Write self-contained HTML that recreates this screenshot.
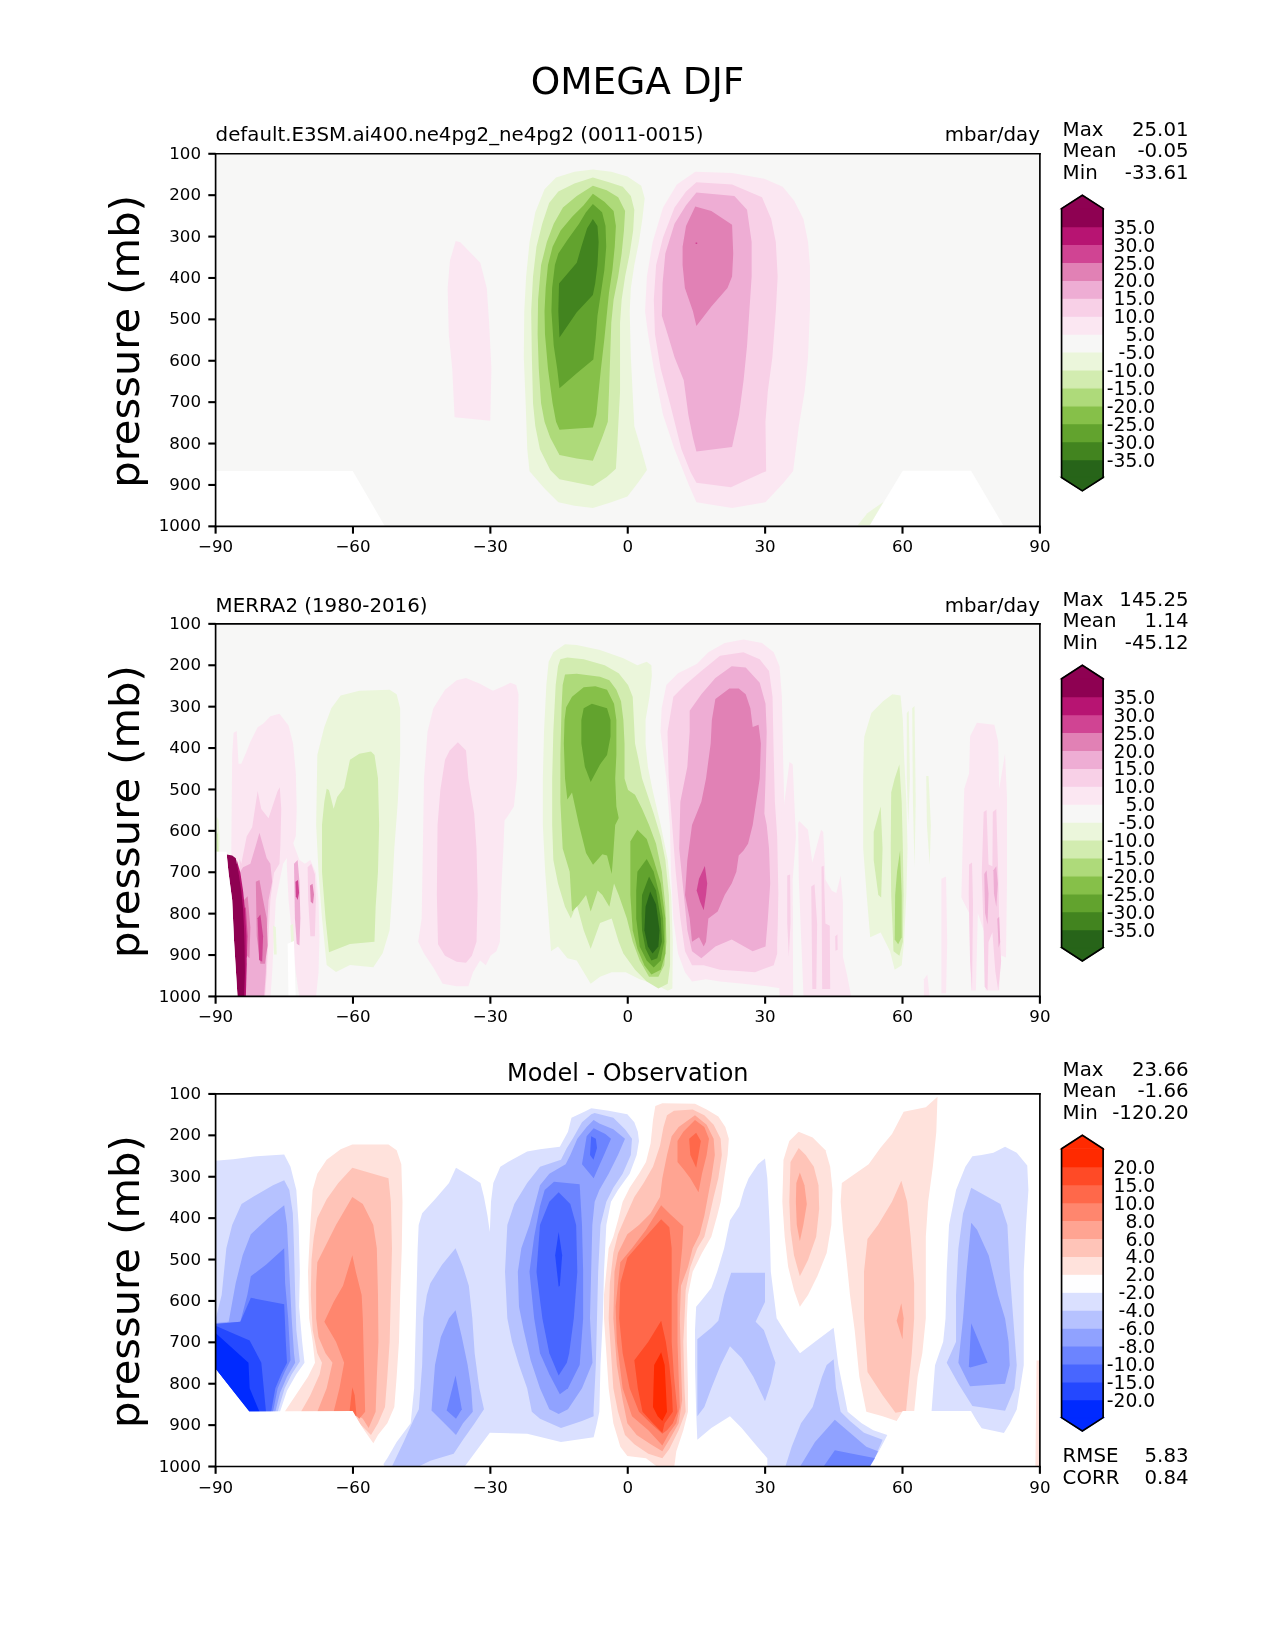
<!DOCTYPE html>
<html><head><meta charset="utf-8"><title>OMEGA DJF</title>
<style>html,body{margin:0;padding:0;background:#fff;}svg{display:block;will-change:transform;}</style>
</head><body>
<svg  width="1275" height="1650" viewBox="0 0 612 792"  version="1.1">
  <defs>
  <style type="text/css">*{stroke-linejoin: round; stroke-linecap: butt}</style>
 </defs>
 <g id="figure_1">
  <g id="patch_1">
   <path d="M 0 792 L 612 792 L 612 0 L 0 0 z
" style="fill: #ffffff"/>
  </g>
  <g id="axes_1">
   <g id="patch_2">
    <path d="M 103.4892 252.648 L 499.1472 252.648 L 499.1472 73.8144 L 103.4892 73.8144 z
" style="fill: #ffffff"/>
   </g>
   <g id="QuadContourSet_1">
   </g>
   <g id="patch_3">
    <path d="M 103.488 73.824 L 499.152 73.824 L 499.152 252.648 L 103.488 252.648 z
" clip-path="url(#pb0cb245e15)" style="fill: #f7f7f6"/>
   </g>
   <g id="patch_4">
    <path d="M 103.488 226.032 L 169.296 226.032 L 184.8 252.672 L 103.488 252.672 z
" clip-path="url(#pb0cb245e15)" style="fill: #ffffff"/>
   </g>
   <g id="patch_5">
    <path d="M 433.296463 226.01672 L 466.093891 226.01672 L 481.527974 252.100322 L 417.476527 252.100322 z
" clip-path="url(#pb0cb245e15)" style="fill: #ffffff"/>
   </g>
   <g id="patch_6">
    <path d="M 411.688746 252.100322 L 416.318971 246.31254 L 424.036013 240.910611 L 417.476527 252.100322 z
" clip-path="url(#pb0cb245e15)" style="fill: #ebf6db"/>
   </g>
   <g id="patch_7">
    <path d="M 218.738908 115.676572 L 220.95038 116.22944 L 230.570283 126.181064 L 233.666344 138.34416 L 234.77208 154.9302 L 235.877816 177.044921 L 235.324948 201.923981 L 218.18604 200.265377 L 217.080304 177.044921 L 215.4217 160.45888 L 214.868832 138.34416 L 215.974568 125.075328 z
" clip-path="url(#pb0cb245e15)" style="fill: #fbe7f2"/>
   </g>
   <g id="patch_8">
    <path d="M 284.579006 81.392265 L 293.418785 82.497238 L 301.153591 84.707182 L 307.783425 89.127072 L 309.440884 95.20442 L 308.335912 105.149171 L 306.678453 116.198895 L 304.468508 127.248619 L 302.81105 138.298343 L 302.258564 149.348066 L 302.81105 171.447514 L 303.916022 193.546961 L 304.468508 204.596685 L 307.783425 215.646409 L 310.545856 225.59116 L 306.678453 231.116022 L 301.153591 238.298343 L 293.418785 241.060773 L 284.579006 243.823204 L 275.739227 242.718232 L 268.00442 241.060773 L 261.374586 234.430939 L 254.192265 226.143646 L 253.087293 215.646409 L 252.313812 193.546961 L 251.429834 171.447514 L 251.650829 149.348066 L 252.534807 132.773481 L 254.192265 116.198895 L 256.954696 101.834254 L 261.374586 90.78453 L 266.899448 85.259669 L 275.739227 82.497238 z
" clip-path="url(#pb0cb245e15)" style="fill: #ebf6db"/>
   </g>
   <g id="patch_9">
    <path d="M 284.579006 85.259669 L 292.313812 87.469613 L 298.943646 89.679558 L 302.81105 94.099448 L 304.468508 100.729282 L 303.916022 110.674033 L 302.258564 121.723757 L 300.048619 132.773481 L 298.39116 143.823204 L 297.61768 154.872928 L 297.61768 171.447514 L 297.61768 188.022099 L 296.733702 204.596685 L 296.181215 215.646409 L 295.628729 225.038674 L 291.20884 228.906077 L 284.579006 233.325967 L 276.844199 231.668508 L 268.556906 230.01105 L 264.137017 225.59116 L 259.164641 215.646409 L 256.954696 204.596685 L 255.849724 193.546961 L 255.297238 171.447514 L 254.965746 149.348066 L 255.849724 132.773481 L 257.507182 118.40884 L 260.269613 107.359116 L 263.58453 97.414365 L 268.00442 91.889503 L 275.739227 88.022099 z
" clip-path="url(#pb0cb245e15)" style="fill: #d2ecb0"/>
   </g>
   <g id="patch_10">
    <path d="M 284.579006 89.127072 L 291.20884 91.337017 L 296.733702 94.651934 L 300.048619 101.281768 L 299.496133 110.674033 L 298.39116 121.723757 L 296.733702 132.773481 L 294.523757 143.823204 L 293.418785 154.872928 L 292.866298 171.447514 L 292.313812 188.022099 L 291.761326 202.38674 L 288.998895 210.121547 L 284.579006 221.171271 L 276.844199 220.066298 L 268.556906 218.40884 L 264.137017 210.121547 L 261.374586 202.38674 L 259.717127 193.546961 L 258.612155 176.972376 L 258.059669 160.39779 L 258.280663 143.823204 L 259.717127 127.248619 L 262.479558 116.198895 L 265.794475 107.359116 L 270.214365 99.624309 L 276.844199 94.099448 z
" clip-path="url(#pb0cb245e15)" style="fill: #aeda7a"/>
   </g>
   <g id="patch_11">
    <path d="M 284.579006 92.994475 L 290.103867 96.861878 L 294.523757 101.281768 L 295.628729 108.464088 L 295.076243 118.40884 L 293.971271 129.458564 L 292.313812 140.508287 L 291.20884 151.558011 L 290.103867 162.607735 L 288.446409 176.972376 L 287.341436 188.022099 L 286.236464 199.071823 L 284.579006 205.149171 L 276.844199 205.701657 L 268.556906 206.254144 L 266.899448 202.38674 L 265.241989 193.546961 L 263.032044 176.972376 L 261.59558 160.39779 L 261.374586 149.348066 L 261.927072 138.298343 L 263.032044 127.248619 L 265.241989 118.40884 L 269.109392 110.674033 L 274.634254 104.044199 L 280.159116 98.519337 z
" clip-path="url(#pb0cb245e15)" style="fill: #86c049"/>
   </g>
   <g id="patch_12">
    <path d="M 284.579006 97.966851 L 288.998895 101.834254 L 290.656354 108.464088 L 290.987845 118.40884 L 290.103867 129.458564 L 288.446409 140.508287 L 286.78895 151.558011 L 285.904972 162.607735 L 284.8 172.552486 L 276.844199 179.18232 L 268.556906 186.364641 L 267.451934 176.972376 L 265.794475 165.922652 L 264.689503 149.348066 L 265.020994 138.298343 L 266.346961 127.248619 L 268.00442 121.723757 L 272.424309 115.093923 L 277.949171 107.359116 L 281.264088 101.834254 z
" clip-path="url(#pb0cb245e15)" style="fill: #62a32e"/>
   </g>
   <g id="patch_13">
    <path d="M 284.579006 105.149171 L 286.78895 108.464088 L 287.341436 116.198895 L 286.78895 127.248619 L 285.683978 136.088398 L 284.579006 141.61326 L 276.844199 149.900552 L 268.556906 162.055249 L 268.00442 149.348066 L 268.335912 136.088398 L 276.844199 126.143646 L 279.054144 118.40884 L 281.816575 109.569061 z
" clip-path="url(#pb0cb245e15)" style="fill: #42841f"/>
   </g>
   <g id="patch_14">
    <path d="M 333.719337 82.497238 L 351.398895 83.049724 L 366.868508 85.812155 L 375.708287 89.679558 L 381.233149 96.309392 L 385.653039 105.149171 L 387.862983 116.198895 L 388.746961 127.248619 L 388.746961 149.348066 L 387.862983 171.447514 L 386.205525 188.022099 L 383.443094 204.596685 L 380.680663 226.143646 L 375.708287 232.220994 L 367.420994 241.060773 L 351.398895 243.823204 L 334.271823 241.060773 L 330.40442 232.220994 L 323.774586 215.646409 L 318.249724 199.071823 L 313.829834 176.972376 L 311.067403 160.39779 L 309.630939 149.348066 L 310.514917 132.773481 L 313.277348 116.198895 L 318.249724 99.624309 L 324.879558 88.574586 z
" clip-path="url(#pb0cb245e15)" style="fill: #fbe7f2"/>
   </g>
   <g id="patch_15">
    <path d="M 334.271823 87.469613 L 351.398895 88.574586 L 365.763536 94.651934 L 370.183425 105.149171 L 372.39337 116.198895 L 373.277348 132.773481 L 372.39337 149.348066 L 370.735912 171.447514 L 368.525967 188.022099 L 367.420994 202.38674 L 367.752486 226.143646 L 359.133702 230.01105 L 350.846409 233.878453 L 334.271823 231.668508 L 331.509392 226.696133 L 327.089503 215.646409 L 321.564641 193.546961 L 317.144751 176.972376 L 314.38232 160.39779 L 313.829834 143.823204 L 314.934807 127.248619 L 318.249724 113.98895 L 323.774586 99.624309 L 329.299448 91.889503 z
" clip-path="url(#pb0cb245e15)" style="fill: #f8d0e7"/>
   </g>
   <g id="patch_16">
    <path d="M 334.271823 92.441989 L 352.503867 94.099448 L 358.581215 100.729282 L 360.79116 116.198895 L 360.79116 132.773481 L 359.686188 149.348066 L 358.581215 165.922652 L 356.923757 182.497238 L 354.713812 199.071823 L 351.398895 214.541436 L 334.271823 216.751381 L 332.614365 210.121547 L 330.40442 199.071823 L 328.194475 182.497238 L 323.774586 171.447514 L 320.459669 160.39779 L 317.697238 151.558011 L 318.028729 136.088398 L 319.354696 121.723757 L 323.774586 107.359116 L 329.299448 98.519337 z
" clip-path="url(#pb0cb245e15)" style="fill: #eeadd4"/>
   </g>
   <g id="patch_17">
    <path d="M 333.719337 99.071823 L 341.454144 101.281768 L 351.398895 107.911602 L 351.951381 121.723757 L 351.398895 132.773481 L 349.18895 138.298343 L 341.454144 147.138122 L 334.271823 156.530387 L 332.614365 149.348066 L 328.746961 138.298343 L 327.641989 127.248619 L 327.641989 118.40884 L 329.299448 108.464088 z
" clip-path="url(#pb0cb245e15)" style="fill: #e181b5"/>
   </g>
   <g id="patch_18">
    <path d="M 333.888 116.352 L 334.656 116.352 L 334.656 117.12 L 333.888 117.12 z
" clip-path="url(#pb0cb245e15)" style="fill: #d04493"/>
   </g>
   <g id="matplotlib.axis_1">
    <g id="xtick_1">
     <g id="line2d_1">
            <g>
       <path d="M 0 0 L 0 3.5 " transform="translate(103.4892 252.648)" style="stroke: #000000"/>
      </g>
     </g>
     <g id="text_1">
      <text style="font-size: 8px; font-family: 'DejaVu Sans', 'Liberation Sans', sans-serif; text-anchor: middle" x="103.4892" y="265.1507" transform="rotate(-0 103.4892 265.1507)">−90</text>
     </g>
    </g>
    <g id="xtick_2">
     <g id="line2d_2">
      <g>
       <path d="M 0 0 L 0 3.5 " transform="translate(169.4322 252.648)" style="stroke: #000000"/>
      </g>
     </g>
     <g id="text_2">
      <text style="font-size: 8px; font-family: 'DejaVu Sans', 'Liberation Sans', sans-serif; text-anchor: middle" x="169.4322" y="265.1507" transform="rotate(-0 169.4322 265.1507)">−60</text>
     </g>
    </g>
    <g id="xtick_3">
     <g id="line2d_3">
      <g>
       <path d="M 0 0 L 0 3.5 " transform="translate(235.3752 252.648)" style="stroke: #000000"/>
      </g>
     </g>
     <g id="text_3">
      <text style="font-size: 8px; font-family: 'DejaVu Sans', 'Liberation Sans', sans-serif; text-anchor: middle" x="235.3752" y="265.1507" transform="rotate(-0 235.3752 265.1507)">−30</text>
     </g>
    </g>
    <g id="xtick_4">
     <g id="line2d_4">
      <g>
       <path d="M 0 0 L 0 3.5 " transform="translate(301.3182 252.648)" style="stroke: #000000"/>
      </g>
     </g>
     <g id="text_4">
      <text style="font-size: 8px; font-family: 'DejaVu Sans', 'Liberation Sans', sans-serif; text-anchor: middle" x="301.3182" y="265.1507" transform="rotate(-0 301.3182 265.1507)">0</text>
     </g>
    </g>
    <g id="xtick_5">
     <g id="line2d_5">
      <g>
       <path d="M 0 0 L 0 3.5 " transform="translate(367.2612 252.648)" style="stroke: #000000"/>
      </g>
     </g>
     <g id="text_5">
      <text style="font-size: 8px; font-family: 'DejaVu Sans', 'Liberation Sans', sans-serif; text-anchor: middle" x="367.2612" y="265.1507" transform="rotate(-0 367.2612 265.1507)">30</text>
     </g>
    </g>
    <g id="xtick_6">
     <g id="line2d_6">
      <g>
       <path d="M 0 0 L 0 3.5 " transform="translate(433.2042 252.648)" style="stroke: #000000"/>
      </g>
     </g>
     <g id="text_6">
      <text style="font-size: 8px; font-family: 'DejaVu Sans', 'Liberation Sans', sans-serif; text-anchor: middle" x="433.2042" y="265.1507" transform="rotate(-0 433.2042 265.1507)">60</text>
     </g>
    </g>
    <g id="xtick_7">
     <g id="line2d_7">
      <g>
       <path d="M 0 0 L 0 3.5 " transform="translate(499.1472 252.648)" style="stroke: #000000"/>
      </g>
     </g>
     <g id="text_7">
      <text style="font-size: 8px; font-family: 'DejaVu Sans', 'Liberation Sans', sans-serif; text-anchor: middle" x="499.1472" y="265.1507" transform="rotate(-0 499.1472 265.1507)">90</text>
     </g>
    </g>
   </g>
   <g id="matplotlib.axis_2">
    <g id="ytick_1">
     <g id="line2d_8">
            <g>
       <path d="M 0 0 L -3.5 0 " transform="translate(103.4892 73.8144)" style="stroke: #000000"/>
      </g>
     </g>
     <g id="text_8">
      <text style="font-size: 8px; font-family: 'DejaVu Sans', 'Liberation Sans', sans-serif; text-anchor: end" x="96.4892" y="76.2778" transform="rotate(-0 96.4892 76.2778)">100</text>
     </g>
    </g>
    <g id="ytick_2">
     <g id="line2d_9">
      <g>
       <path d="M 0 0 L -3.5 0 " transform="translate(103.4892 93.6848)" style="stroke: #000000"/>
      </g>
     </g>
     <g id="text_9">
      <text style="font-size: 8px; font-family: 'DejaVu Sans', 'Liberation Sans', sans-serif; text-anchor: end" x="96.4892" y="96.1482" transform="rotate(-0 96.4892 96.1482)">200</text>
     </g>
    </g>
    <g id="ytick_3">
     <g id="line2d_10">
      <g>
       <path d="M 0 0 L -3.5 0 " transform="translate(103.4892 113.5552)" style="stroke: #000000"/>
      </g>
     </g>
     <g id="text_10">
      <text style="font-size: 8px; font-family: 'DejaVu Sans', 'Liberation Sans', sans-serif; text-anchor: end" x="96.4892" y="116.0186" transform="rotate(-0 96.4892 116.0186)">300</text>
     </g>
    </g>
    <g id="ytick_4">
     <g id="line2d_11">
      <g>
       <path d="M 0 0 L -3.5 0 " transform="translate(103.4892 133.4256)" style="stroke: #000000"/>
      </g>
     </g>
     <g id="text_11">
      <text style="font-size: 8px; font-family: 'DejaVu Sans', 'Liberation Sans', sans-serif; text-anchor: end" x="96.4892" y="135.8890" transform="rotate(-0 96.4892 135.8890)">400</text>
     </g>
    </g>
    <g id="ytick_5">
     <g id="line2d_12">
      <g>
       <path d="M 0 0 L -3.5 0 " transform="translate(103.4892 153.296)" style="stroke: #000000"/>
      </g>
     </g>
     <g id="text_12">
      <text style="font-size: 8px; font-family: 'DejaVu Sans', 'Liberation Sans', sans-serif; text-anchor: end" x="96.4892" y="155.7594" transform="rotate(-0 96.4892 155.7594)">500</text>
     </g>
    </g>
    <g id="ytick_6">
     <g id="line2d_13">
      <g>
       <path d="M 0 0 L -3.5 0 " transform="translate(103.4892 173.1664)" style="stroke: #000000"/>
      </g>
     </g>
     <g id="text_13">
      <text style="font-size: 8px; font-family: 'DejaVu Sans', 'Liberation Sans', sans-serif; text-anchor: end" x="96.4892" y="175.6298" transform="rotate(-0 96.4892 175.6298)">600</text>
     </g>
    </g>
    <g id="ytick_7">
     <g id="line2d_14">
      <g>
       <path d="M 0 0 L -3.5 0 " transform="translate(103.4892 193.0368)" style="stroke: #000000"/>
      </g>
     </g>
     <g id="text_14">
      <text style="font-size: 8px; font-family: 'DejaVu Sans', 'Liberation Sans', sans-serif; text-anchor: end" x="96.4892" y="195.5002" transform="rotate(-0 96.4892 195.5002)">700</text>
     </g>
    </g>
    <g id="ytick_8">
     <g id="line2d_15">
      <g>
       <path d="M 0 0 L -3.5 0 " transform="translate(103.4892 212.9072)" style="stroke: #000000"/>
      </g>
     </g>
     <g id="text_15">
      <text style="font-size: 8px; font-family: 'DejaVu Sans', 'Liberation Sans', sans-serif; text-anchor: end" x="96.4892" y="215.3706" transform="rotate(-0 96.4892 215.3706)">800</text>
     </g>
    </g>
    <g id="ytick_9">
     <g id="line2d_16">
      <g>
       <path d="M 0 0 L -3.5 0 " transform="translate(103.4892 232.7776)" style="stroke: #000000"/>
      </g>
     </g>
     <g id="text_16">
      <text style="font-size: 8px; font-family: 'DejaVu Sans', 'Liberation Sans', sans-serif; text-anchor: end" x="96.4892" y="235.2410" transform="rotate(-0 96.4892 235.2410)">900</text>
     </g>
    </g>
    <g id="ytick_10">
     <g id="line2d_17">
      <g>
       <path d="M 0 0 L -3.5 0 " transform="translate(103.4892 252.648)" style="stroke: #000000"/>
      </g>
     </g>
     <g id="text_17">
      <text style="font-size: 8px; font-family: 'DejaVu Sans', 'Liberation Sans', sans-serif; text-anchor: end" x="96.4892" y="255.1114" transform="rotate(-0 96.4892 255.1114)">1000</text>
     </g>
    </g>
    <g id="text_18">
     <g transform="translate(-1.0560 0.6720)"><text style="font-size: 20px; font-family: 'DejaVu Sans', 'Liberation Sans', sans-serif; text-anchor: middle" x="67.969825" y="163.2312" transform="rotate(-90 67.969825 163.2312)">pressure (mb)</text></g>
    </g>
   </g>
   <g id="patch_19">
    <path d="M 103.4892 252.648 L 103.4892 73.8144 " style="fill: none; stroke: #000000; stroke-width: 0.8; stroke-linejoin: miter; stroke-linecap: square"/>
   </g>
   <g id="patch_20">
    <path d="M 499.1472 252.648 L 499.1472 73.8144 " style="fill: none; stroke: #000000; stroke-width: 0.8; stroke-linejoin: miter; stroke-linecap: square"/>
   </g>
   <g id="patch_21">
    <path d="M 103.4892 252.648 L 499.1472 252.648 " style="fill: none; stroke: #000000; stroke-width: 0.8; stroke-linejoin: miter; stroke-linecap: square"/>
   </g>
   <g id="patch_22">
    <path d="M 103.4892 73.8144 L 499.1472 73.8144 " style="fill: none; stroke: #000000; stroke-width: 0.8; stroke-linejoin: miter; stroke-linecap: square"/>
   </g>
   <g id="text_19">
    <text style="font-size: 9.5px; font-family: 'DejaVu Sans', 'Liberation Sans', sans-serif; text-anchor: start" x="103.4892" y="67.8144" transform="rotate(-0 103.4892 67.8144)">default.E3SM.ai400.ne4pg2_ne4pg2 (0011-0015)</text>
   </g>
   <g id="text_20">
    <text style="font-size: 9.5px; font-family: 'DejaVu Sans', 'Liberation Sans', sans-serif; text-anchor: end" x="499.1472" y="67.8144" transform="rotate(-0 499.1472 67.8144)">mbar/day</text>
   </g>
  </g>
  <g id="axes_2">
   <g id="patch_23">
    <path d="M 509.5512 229.1688 L 529.5024 229.1688 L 529.5024 100.1448 L 509.5512 100.1448 z
" style="fill: #ffffff"/>
   </g>
   <g id="patch_24">
    <path d="M 509.5512 229.1688 L 519.5268 235.62 L 529.5024 229.1688 z" style="fill: #276419; stroke: #276419; stroke-width: 0.6; stroke-linejoin: miter"/>
   </g>
   <g id="patch_25">
    <path d="M 509.5512 100.1448 L 519.5268 93.6936 L 529.5024 100.1448 z" style="fill: #8e0152; stroke: #8e0152; stroke-width: 0.6; stroke-linejoin: miter"/>
   </g>
   <g id="QuadMesh_1">
    <path d="M 509.5512 229.1688 L 529.5024 229.1688 L 529.5024 220.5672 L 509.5512 220.5672 L 509.5512 229.1688 " clip-path="url(#p1fe804e399)" style="fill: #276419; stroke: #276419; stroke-width: 0.6"/>
    <path d="M 509.5512 220.5672 L 529.5024 220.5672 L 529.5024 211.9656 L 509.5512 211.9656 L 509.5512 220.5672 " clip-path="url(#p1fe804e399)" style="fill: #42841f; stroke: #42841f; stroke-width: 0.6"/>
    <path d="M 509.5512 211.9656 L 529.5024 211.9656 L 529.5024 203.364 L 509.5512 203.364 L 509.5512 211.9656 " clip-path="url(#p1fe804e399)" style="fill: #62a32e; stroke: #62a32e; stroke-width: 0.6"/>
    <path d="M 509.5512 203.364 L 529.5024 203.364 L 529.5024 194.7624 L 509.5512 194.7624 L 509.5512 203.364 " clip-path="url(#p1fe804e399)" style="fill: #86c049; stroke: #86c049; stroke-width: 0.6"/>
    <path d="M 509.5512 194.7624 L 529.5024 194.7624 L 529.5024 186.1608 L 509.5512 186.1608 L 509.5512 194.7624 " clip-path="url(#p1fe804e399)" style="fill: #aeda7a; stroke: #aeda7a; stroke-width: 0.6"/>
    <path d="M 509.5512 186.1608 L 529.5024 186.1608 L 529.5024 177.5592 L 509.5512 177.5592 L 509.5512 186.1608 " clip-path="url(#p1fe804e399)" style="fill: #d2ecb0; stroke: #d2ecb0; stroke-width: 0.6"/>
    <path d="M 509.5512 177.5592 L 529.5024 177.5592 L 529.5024 168.9576 L 509.5512 168.9576 L 509.5512 177.5592 " clip-path="url(#p1fe804e399)" style="fill: #ebf6db; stroke: #ebf6db; stroke-width: 0.6"/>
    <path d="M 509.5512 168.9576 L 529.5024 168.9576 L 529.5024 160.356 L 509.5512 160.356 L 509.5512 168.9576 " clip-path="url(#p1fe804e399)" style="fill: #f7f7f6; stroke: #f7f7f6; stroke-width: 0.6"/>
    <path d="M 509.5512 160.356 L 529.5024 160.356 L 529.5024 151.7544 L 509.5512 151.7544 L 509.5512 160.356 " clip-path="url(#p1fe804e399)" style="fill: #fbe7f2; stroke: #fbe7f2; stroke-width: 0.6"/>
    <path d="M 509.5512 151.7544 L 529.5024 151.7544 L 529.5024 143.1528 L 509.5512 143.1528 L 509.5512 151.7544 " clip-path="url(#p1fe804e399)" style="fill: #f8d0e7; stroke: #f8d0e7; stroke-width: 0.6"/>
    <path d="M 509.5512 143.1528 L 529.5024 143.1528 L 529.5024 134.5512 L 509.5512 134.5512 L 509.5512 143.1528 " clip-path="url(#p1fe804e399)" style="fill: #eeadd4; stroke: #eeadd4; stroke-width: 0.6"/>
    <path d="M 509.5512 134.5512 L 529.5024 134.5512 L 529.5024 125.9496 L 509.5512 125.9496 L 509.5512 134.5512 " clip-path="url(#p1fe804e399)" style="fill: #e181b5; stroke: #e181b5; stroke-width: 0.6"/>
    <path d="M 509.5512 125.9496 L 529.5024 125.9496 L 529.5024 117.348 L 509.5512 117.348 L 509.5512 125.9496 " clip-path="url(#p1fe804e399)" style="fill: #d04493; stroke: #d04493; stroke-width: 0.6"/>
    <path d="M 509.5512 117.348 L 529.5024 117.348 L 529.5024 108.7464 L 509.5512 108.7464 L 509.5512 117.348 " clip-path="url(#p1fe804e399)" style="fill: #b71472; stroke: #b71472; stroke-width: 0.6"/>
    <path d="M 509.5512 108.7464 L 529.5024 108.7464 L 529.5024 100.1448 L 509.5512 100.1448 L 509.5512 108.7464 " clip-path="url(#p1fe804e399)" style="fill: #8e0152; stroke: #8e0152; stroke-width: 0.6"/>
   </g>
   <g id="matplotlib.axis_3"/>
   <g id="matplotlib.axis_4">
    <g id="ytick_11">
     <g id="line2d_18"/>
     <g id="text_21">
      <text style="font-size: 9px; font-family: 'DejaVu Sans', 'Liberation Sans', sans-serif; text-anchor: end" x="554.5024" y="223.986497" transform="rotate(-0 554.5024 223.986497)">-35.0</text>
     </g>
    </g>
    <g id="ytick_12">
     <g id="line2d_19"/>
     <g id="text_22">
      <text style="font-size: 9px; font-family: 'DejaVu Sans', 'Liberation Sans', sans-serif; text-anchor: end" x="554.5024" y="215.384897" transform="rotate(-0 554.5024 215.384897)">-30.0</text>
     </g>
    </g>
    <g id="ytick_13">
     <g id="line2d_20"/>
     <g id="text_23">
      <text style="font-size: 9px; font-family: 'DejaVu Sans', 'Liberation Sans', sans-serif; text-anchor: end" x="554.5024" y="206.783297" transform="rotate(-0 554.5024 206.783297)">-25.0</text>
     </g>
    </g>
    <g id="ytick_14">
     <g id="line2d_21"/>
     <g id="text_24">
      <text style="font-size: 9px; font-family: 'DejaVu Sans', 'Liberation Sans', sans-serif; text-anchor: end" x="554.5024" y="198.181697" transform="rotate(-0 554.5024 198.181697)">-20.0</text>
     </g>
    </g>
    <g id="ytick_15">
     <g id="line2d_22"/>
     <g id="text_25">
      <text style="font-size: 9px; font-family: 'DejaVu Sans', 'Liberation Sans', sans-serif; text-anchor: end" x="554.5024" y="189.580097" transform="rotate(-0 554.5024 189.580097)">-15.0</text>
     </g>
    </g>
    <g id="ytick_16">
     <g id="line2d_23"/>
     <g id="text_26">
      <text style="font-size: 9px; font-family: 'DejaVu Sans', 'Liberation Sans', sans-serif; text-anchor: end" x="554.5024" y="180.978497" transform="rotate(-0 554.5024 180.978497)">-10.0</text>
     </g>
    </g>
    <g id="ytick_17">
     <g id="line2d_24"/>
     <g id="text_27">
      <text style="font-size: 9px; font-family: 'DejaVu Sans', 'Liberation Sans', sans-serif; text-anchor: end" x="554.5024" y="172.376897" transform="rotate(-0 554.5024 172.376897)"> -5.0</text>
     </g>
    </g>
    <g id="ytick_18">
     <g id="line2d_25"/>
     <g id="text_28">
      <text style="font-size: 9px; font-family: 'DejaVu Sans', 'Liberation Sans', sans-serif; text-anchor: end" x="554.5024" y="163.775297" transform="rotate(-0 554.5024 163.775297)">  5.0</text>
     </g>
    </g>
    <g id="ytick_19">
     <g id="line2d_26"/>
     <g id="text_29">
      <text style="font-size: 9px; font-family: 'DejaVu Sans', 'Liberation Sans', sans-serif; text-anchor: end" x="554.5024" y="155.173697" transform="rotate(-0 554.5024 155.173697)"> 10.0</text>
     </g>
    </g>
    <g id="ytick_20">
     <g id="line2d_27"/>
     <g id="text_30">
      <text style="font-size: 9px; font-family: 'DejaVu Sans', 'Liberation Sans', sans-serif; text-anchor: end" x="554.5024" y="146.572097" transform="rotate(-0 554.5024 146.572097)"> 15.0</text>
     </g>
    </g>
    <g id="ytick_21">
     <g id="line2d_28"/>
     <g id="text_31">
      <text style="font-size: 9px; font-family: 'DejaVu Sans', 'Liberation Sans', sans-serif; text-anchor: end" x="554.5024" y="137.970497" transform="rotate(-0 554.5024 137.970497)"> 20.0</text>
     </g>
    </g>
    <g id="ytick_22">
     <g id="line2d_29"/>
     <g id="text_32">
      <text style="font-size: 9px; font-family: 'DejaVu Sans', 'Liberation Sans', sans-serif; text-anchor: end" x="554.5024" y="129.368897" transform="rotate(-0 554.5024 129.368897)"> 25.0</text>
     </g>
    </g>
    <g id="ytick_23">
     <g id="line2d_30"/>
     <g id="text_33">
      <text style="font-size: 9px; font-family: 'DejaVu Sans', 'Liberation Sans', sans-serif; text-anchor: end" x="554.5024" y="120.767297" transform="rotate(-0 554.5024 120.767297)"> 30.0</text>
     </g>
    </g>
    <g id="ytick_24">
     <g id="line2d_31"/>
     <g id="text_34">
      <text style="font-size: 9px; font-family: 'DejaVu Sans', 'Liberation Sans', sans-serif; text-anchor: end" x="554.5024" y="112.165697" transform="rotate(-0 554.5024 112.165697)"> 35.0</text>
     </g>
    </g>
   </g>
   <g id="LineCollection_1"/>
   <g id="patch_26">
    <path d="M 509.5512 229.1688 L 519.5268 235.62 L 529.5024 229.1688 L 529.5024 100.1448 L 519.5268 93.6936 L 509.5512 100.1448 L 509.5512 229.1688 z
" style="fill: none; stroke: #000000; stroke-width: 0.8; stroke-linejoin: miter; stroke-linecap: square"/>
   </g>
  </g>
  <g id="axes_3">
   <g id="patch_27">
    <path d="M 103.4892 478.2888 L 499.1472 478.2888 L 499.1472 299.4552 L 103.4892 299.4552 z
" style="fill: #ffffff"/>
   </g>
   <g id="QuadContourSet_2">
   </g>
   <g id="patch_28">
    <path d="M 103.488 299.472 L 499.152 299.472 L 499.152 478.272 L 103.488 478.272 z
" clip-path="url(#pe29794f8d5)" style="fill: #f7f7f6"/>
   </g>
   <g id="patch_29">
    <path d="M 111.010909 408.436364 L 111.447273 362.181818 L 112.145455 351.709091 L 113.629091 350.836364 L 114.501818 366.545455 L 115.810909 366.545455 L 118.429091 360.436364 L 120.174545 356.072727 L 123.665455 349.090909 L 126.283636 347.345455 L 129.774545 343.854545 L 134.138182 342.545455 L 138.501818 348.218182 L 140.683636 356.945455 L 141.992727 370.909091 L 142.429091 388.363636 L 141.992727 401.454545 L 139.374545 408.436364 L 137.629091 411.927273 L 135.883636 414.545455 L 134.138182 423.272727 L 132.392727 432 L 131.52 449.454545 L 130.647273 466.909091 L 129.774545 479.127273 L 116.683636 479.127273 L 114.065455 449.454545 L 111.447273 414.545455 z
" clip-path="url(#pe29794f8d5)" style="fill: #fbe7f2"/>
   </g>
   <g id="patch_30">
    <path d="M 138.065455 402.327273 L 139.374545 400.581818 L 141.12 405.818182 L 143.738182 412.8 L 146.356364 414.545455 L 148.974545 412.8 L 151.592727 418.909091 L 152.901818 432 L 153.338182 449.454545 L 152.901818 466.909091 L 151.592727 479.127273 L 143.738182 479.127273 L 141.992727 466.909091 L 140.247273 449.454545 L 138.501818 432 L 137.629091 414.545455 z
" clip-path="url(#pe29794f8d5)" style="fill: #fbe7f2"/>
   </g>
   <g id="patch_31">
    <path d="M 114.938182 411.927273 L 115.810909 414.545455 L 118.429091 401.454545 L 121.047273 397.090909 L 123.665455 379.636364 L 125.410909 388.363636 L 128.901818 392.727273 L 133.265455 379.636364 L 134.312727 377.890909 L 135.010909 388.363636 L 134.574545 405.818182 L 134.138182 414.545455 L 131.52 418.909091 L 129.774545 432 L 128.901818 449.454545 L 128.029091 466.909091 L 127.156364 479.127273 L 117.12 479.127273 L 115.810909 449.454545 L 114.938182 423.272727 z
" clip-path="url(#pe29794f8d5)" style="fill: #f8d0e7"/>
   </g>
   <g id="patch_32">
    <path d="M 114.938182 418.909091 L 116.683636 416.290909 L 120.174545 414.545455 L 122.792727 405.818182 L 124.538182 399.709091 L 126.283636 405.818182 L 128.029091 411.927273 L 129.774545 414.545455 L 130.647273 423.272727 L 128.901818 432 L 128.029091 449.454545 L 127.592727 466.909091 L 126.72 479.127273 L 117.556364 479.127273 L 116.683636 449.454545 L 115.374545 432 z
" clip-path="url(#pe29794f8d5)" style="fill: #eeadd4"/>
   </g>
   <g id="patch_33">
    <path d="M 122.792727 423.272727 L 124.538182 422.4 L 126.283636 432 L 128.029091 440.727273 L 128.465455 453.818182 L 127.156364 462.545455 L 124.974545 462.545455 L 123.229091 449.454545 z
" clip-path="url(#pe29794f8d5)" style="fill: #e181b5"/>
   </g>
   <g id="patch_34">
    <path d="M 117.12 432 L 118.865455 430.254545 L 120.174545 445.090909 L 119.738182 459.927273 L 117.992727 458.181818 z
" clip-path="url(#pe29794f8d5)" style="fill: #e181b5"/>
   </g>
   <g id="patch_35">
    <path d="M 123.665455 440.727273 L 124.974545 438.981818 L 126.283636 449.454545 L 125.847273 461.672727 L 124.363636 460.8 z
" clip-path="url(#pe29794f8d5)" style="fill: #d04493"/>
   </g>
   <g id="patch_36">
    <path d="M 116.683636 436.363636 L 117.992727 435.490909 L 118.865455 449.454545 L 118.429091 459.927273 L 117.12 458.181818 z
" clip-path="url(#pe29794f8d5)" style="fill: #d04493"/>
   </g>
   <g id="patch_37">
    <path d="M 113.629091 412.8 L 115.374545 418.909091 L 116.683636 427.636364 L 117.556364 436.363636 L 118.254545 449.454545 L 118.429091 462.545455 L 117.992727 479.127273 L 115.810909 479.127273 z
" clip-path="url(#pe29794f8d5)" style="fill: #b71472"/>
   </g>
   <g id="patch_38">
    <path d="M 141.12 414.545455 L 142.865455 412.8 L 143.738182 423.272727 L 144.174545 440.727273 L 143.738182 453.818182 L 142.429091 452.945455 L 141.556364 440.727273 z
" clip-path="url(#pe29794f8d5)" style="fill: #eeadd4"/>
   </g>
   <g id="patch_39">
    <path d="M 141.818182 423.272727 L 143.04 422.4 L 143.563636 428.509091 L 142.865455 432 L 141.992727 430.254545 z
" clip-path="url(#pe29794f8d5)" style="fill: #d04493"/>
   </g>
   <g id="patch_40">
    <path d="M 147.665455 416.290909 L 149.410909 414.545455 L 151.156364 419.781818 L 151.592727 432 L 151.156364 449.454545 L 148.974545 449.454545 L 147.927273 432 z
" clip-path="url(#pe29794f8d5)" style="fill: #f8d0e7"/>
   </g>
   <g id="patch_41">
    <path d="M 148.8 425.018182 L 150.021818 424.145455 L 150.72 429.381818 L 150.283636 433.745455 L 149.149091 432.872727 z
" clip-path="url(#pe29794f8d5)" style="fill: #e181b5"/>
   </g>
   <g id="patch_42">
    <path d="M 108.829091 410.181818 L 111.447273 410.618182 L 113.192727 411.927273 L 114.501818 418.909091 L 115.810909 427.636364 L 116.683636 436.363636 L 117.12 445.090909 L 117.381818 453.818182 L 117.556364 466.909091 L 117.12 479.127273 L 114.065455 479.127273 L 112.32 451.2 L 111.447273 432 L 109.701818 418.909091 L 109.003636 411.927273 z
" clip-path="url(#pe29794f8d5)" style="fill: #8e0152"/>
   </g>
   <g id="patch_43">
    <path d="M 103.941818 391.854545 L 104.901818 393.6 L 105.512727 402.327273 L 105.338182 408.872727 L 103.941818 408.872727 z
" clip-path="url(#pe29794f8d5)" style="fill: #ebf6db"/>
   </g>
   <g id="patch_44">
    <path d="M 103.941818 398.836364 L 104.64 400.581818 L 104.901818 408.872727 L 103.941818 408.872727 z
" clip-path="url(#pe29794f8d5)" style="fill: #d2ecb0"/>
   </g>
   <g id="patch_45">
    <path d="M 131.083636 444.218182 L 132.392727 445.090909 L 132.829091 458.181818 L 131.52 458.181818 z
" clip-path="url(#pe29794f8d5)" style="fill: #ebf6db"/>
   </g>
   <g id="patch_46">
    <path d="M 139.374545 444.218182 L 140.683636 443.345455 L 141.12 452.072727 L 139.810909 452.945455 z
" clip-path="url(#pe29794f8d5)" style="fill: #ebf6db"/>
   </g>
   <g id="patch_47">
    <path d="M 155.676342 348.956416 L 159.036118 339.997014 L 163.515819 333.837424 L 172.475222 331.597573 L 187.034251 331.037611 L 190.394027 333.277462 L 192.073915 339.997014 L 192.073915 362.39552 L 190.95399 384.794027 L 189.274102 407.192534 L 188.154176 429.591041 L 187.034251 446.389921 L 183.674475 457.589174 L 179.194774 464.308726 L 167.99552 463.188801 L 161.275968 466.548577 L 156.796267 463.188801 L 154.556416 440.790294 L 152.876528 418.391787 L 151.756603 395.99328 L 152.316566 362.39552 z
" clip-path="url(#pe29794f8d5)" style="fill: #ebf6db"/>
   </g>
   <g id="patch_48">
    <path d="M 156.796267 378.634438 L 157.916192 379.1944 L 160.156043 388.153803 L 161.835931 382.554176 L 165.195707 378.074475 L 167.99552 364.635371 L 172.475222 361.835558 L 178.074848 360.715632 L 179.754736 362.39552 L 181.434624 373.594774 L 181.994587 395.99328 L 181.434624 418.391787 L 180.314699 435.190667 L 179.754736 451.989547 L 167.99552 453.109473 L 157.916192 457.029211 L 156.236304 440.790294 L 154.556416 418.391787 L 154.556416 395.99328 L 155.676342 384.794027 z
" clip-path="url(#pe29794f8d5)" style="fill: #d2ecb0"/>
   </g>
   <g id="patch_49">
    <path d="M 213.606723 331.054342 L 219.208964 326.572549 L 223.690756 325.452101 L 230.413445 328.253221 L 236.57591 331.614566 L 241.617927 329.373669 L 244.979272 327.692997 L 247.780392 328.813445 L 248.90084 333.295238 L 248.564706 351.222409 L 248.116527 373.631373 L 246.659944 387.076751 L 243.858824 391.558543 L 242.178151 393.79944 L 241.617927 407.244818 L 240.497479 429.653782 L 239.937255 452.062745 L 238.256583 456.544538 L 235.455462 458.785434 L 233.214566 463.267227 L 230.413445 461.026331 L 227.052101 466.628571 L 224.811204 473.351261 L 219.208964 473.351261 L 212.486275 472.230812 L 208.004482 464.387675 L 203.522689 457.664986 L 200.721569 452.062745 L 202.402241 440.858263 L 202.962465 407.244818 L 203.522689 373.631373 L 205.203361 351.222409 L 208.004482 340.017927 z
" clip-path="url(#pe29794f8d5)" style="fill: #fbe7f2"/>
   </g>
   <g id="patch_50">
    <path d="M 219.769188 356.264426 L 223.690756 360.185994 L 224.811204 373.631373 L 227.612325 390.438095 L 228.732773 407.244818 L 229.292997 429.653782 L 228.732773 452.062745 L 226.491877 458.785434 L 223.690756 462.146779 L 219.208964 461.586555 L 213.606723 458.785434 L 210.245378 453.183193 L 209.685154 429.653782 L 210.021289 396.040336 L 211.365826 379.233613 L 213.606723 364.667787 L 215.847619 360.185994 z
" clip-path="url(#pe29794f8d5)" style="fill: #f8d0e7"/>
   </g>
   <g id="patch_51">
    <path d="M 265.604482 313.127171 L 271.206723 309.205602 L 276.808964 309.541737 L 288.013445 312.006723 L 299.217927 315.928291 L 305.940616 319.289636 L 310.422409 317.608964 L 312.663305 319.289636 L 312.887395 324.331653 L 311.766947 334.415686 L 309.862185 345.620168 L 309.862185 356.82465 L 310.982633 368.029132 L 313.223529 379.233613 L 317.145098 396.040336 L 320.506443 412.847059 L 322.187115 429.653782 L 322.971429 452.062745 L 322.747339 474.471709 L 320.506443 475.592157 L 313.783754 472.230812 L 307.061064 469.989916 L 300.338375 466.628571 L 293.615686 466.628571 L 288.013445 468.869468 L 283.531653 472.230812 L 276.808964 461.026331 L 272.327171 459.905882 L 267.845378 454.303641 L 264.484034 456.544538 L 263.363585 440.858263 L 261.682913 418.4493 L 260.562465 396.040336 L 260.562465 373.631373 L 261.122689 351.222409 L 262.243137 328.813445 L 263.363585 317.608964 z
" clip-path="url(#pe29794f8d5)" style="fill: #ebf6db"/>
   </g>
   <g id="patch_52">
    <path d="M 268.965826 316.488515 L 272.327171 315.592157 L 280.170308 316.488515 L 290.254342 319.289636 L 296.977031 323.211204 L 301.458824 328.813445 L 303.69972 334.415686 L 304.259944 345.620168 L 304.820168 356.82465 L 306.50084 364.667787 L 308.181513 373.631373 L 310.422409 380.354062 L 313.783754 390.438095 L 317.145098 401.642577 L 319.385994 412.847059 L 321.066667 429.653782 L 321.626891 446.460504 L 321.626891 463.267227 L 320.506443 472.230812 L 316.02465 474.471709 L 310.422409 471.110364 L 304.820168 465.508123 L 299.217927 457.664986 L 296.977031 452.062745 L 293.615686 440.858263 L 288.013445 443.09916 L 283.531653 455.42409 L 280.170308 446.460504 L 276.808964 434.135574 L 274.007843 440.858263 L 271.206723 435.256022 L 267.845378 424.051541 L 265.604482 412.847059 L 265.044258 396.040336 L 265.044258 373.631373 L 265.604482 351.222409 L 266.72493 328.813445 L 267.845378 319.84986 z
" clip-path="url(#pe29794f8d5)" style="fill: #d2ecb0"/>
   </g>
   <g id="patch_53">
    <path d="M 271.206723 323.771429 L 276.808964 323.435294 L 288.013445 324.891877 L 292.495238 326.572549 L 295.856583 331.054342 L 298.097479 336.656583 L 299.217927 345.620168 L 299.778151 356.82465 L 299.778151 373.631373 L 301.458824 379.233613 L 304.820168 381.47451 L 308.181513 388.197199 L 311.542857 396.040336 L 314.904202 405.003922 L 317.705322 418.4493 L 319.385994 435.256022 L 319.946218 452.062745 L 318.82577 463.267227 L 316.02465 468.869468 L 311.542857 468.869468 L 307.061064 461.026331 L 303.69972 452.062745 L 300.898599 440.858263 L 296.977031 429.653782 L 294.736134 424.051541 L 292.495238 435.256022 L 289.133894 429.653782 L 286.892997 427.412885 L 283.531653 437.496919 L 281.290756 429.653782 L 277.929412 434.135574 L 274.568067 437.496919 L 273.447619 418.4493 L 270.086275 407.244818 L 268.965826 384.835854 L 268.965826 362.426891 L 269.52605 340.017927 L 270.086275 328.813445 z
" clip-path="url(#pe29794f8d5)" style="fill: #aeda7a"/>
   </g>
   <g id="patch_54">
    <path d="M 271.766947 339.457703 L 274.568067 334.415686 L 280.170308 329.933894 L 285.772549 329.373669 L 291.37479 331.054342 L 294.736134 337.777031 L 295.856583 345.620168 L 295.856583 362.426891 L 295.296359 373.631373 L 295.856583 387.076751 L 296.977031 392.678992 L 295.296359 396.040336 L 294.17591 412.847059 L 293.615686 419.569748 L 291.37479 410.606162 L 289.133894 410.045938 L 284.652101 415.087955 L 281.290756 409.485714 L 277.929412 396.040336 L 274.568067 380.354062 L 272.327171 383.715406 L 271.206723 373.631373 L 270.646499 356.82465 L 270.982633 345.620168 z
" clip-path="url(#pe29794f8d5)" style="fill: #86c049"/>
   </g>
   <g id="patch_55">
    <path d="M 302.579272 403.883473 L 305.940616 398.281232 L 310.422409 402.763025 L 313.783754 412.847059 L 317.145098 424.051541 L 319.385994 440.858263 L 319.385994 457.664986 L 317.145098 465.508123 L 312.663305 467.74902 L 309.301961 463.267227 L 305.940616 455.42409 L 303.69972 446.460504 L 302.579272 429.653782 L 302.579272 412.847059 z
" clip-path="url(#pe29794f8d5)" style="fill: #86c049"/>
   </g>
   <g id="patch_56">
    <path d="M 280.170308 340.017927 L 284.091877 337.777031 L 291.37479 340.017927 L 293.055462 345.620168 L 293.055462 353.463305 L 291.37479 362.426891 L 288.013445 366.908683 L 283.531653 375.312045 L 280.730532 368.029132 L 279.04986 356.82465 L 279.04986 345.620168 z
" clip-path="url(#pe29794f8d5)" style="fill: #62a32e"/>
   </g>
   <g id="patch_57">
    <path d="M 305.940616 418.4493 L 310.422409 412.286835 L 313.783754 418.4493 L 316.584874 429.653782 L 318.265546 440.858263 L 318.82577 452.062745 L 317.145098 461.026331 L 313.783754 464.387675 L 310.422409 461.026331 L 307.061064 454.303641 L 305.380392 440.858263 L 305.380392 427.412885 z
" clip-path="url(#pe29794f8d5)" style="fill: #62a32e"/>
   </g>
   <g id="patch_58">
    <path d="M 308.181513 429.653782 L 311.542857 420.690196 L 314.904202 427.412885 L 317.145098 440.858263 L 317.705322 452.062745 L 315.464426 459.905882 L 312.663305 461.026331 L 309.862185 455.42409 L 308.181513 446.460504 L 307.957423 438.617367 z
" clip-path="url(#pe29794f8d5)" style="fill: #42841f"/>
   </g>
   <g id="patch_59">
    <path d="M 309.862185 435.256022 L 312.103081 427.973109 L 314.904202 434.135574 L 316.584874 446.460504 L 316.02465 454.303641 L 313.223529 457.664986 L 310.982633 454.303641 L 309.301961 446.460504 z
" clip-path="url(#pe29794f8d5)" style="fill: #276419"/>
   </g>
   <g id="patch_60">
    <path d="M 325.445378 323.211204 L 334.408964 318.729412 L 340.011204 313.127171 L 347.854342 308.645378 L 356.817927 306.964706 L 365.781513 308.645378 L 371.383754 313.127171 L 374.184874 319.84986 L 375.305322 334.415686 L 375.865546 362.426891 L 376.42577 384.835854 L 376.985994 401.642577 L 377.546218 429.653782 L 376.761905 457.664986 L 375.305322 474.471709 L 368.022409 473.351261 L 356.817927 472.230812 L 345.613445 471.110364 L 338.890756 469.989916 L 332.168067 471.110364 L 328.806723 466.628571 L 325.445378 457.664986 L 323.204482 440.858263 L 322.084034 418.4493 L 321.52381 396.040336 L 319.843137 373.631373 L 317.042017 351.222409 L 317.602241 340.017927 L 319.843137 328.813445 z
" clip-path="url(#pe29794f8d5)" style="fill: #fbe7f2"/>
   </g>
   <g id="patch_61">
    <path d="M 323.204482 334.415686 L 328.806723 328.813445 L 336.64986 322.090756 L 345.613445 314.807843 L 356.817927 313.127171 L 364.661064 316.488515 L 369.142857 322.090756 L 370.823529 334.415686 L 371.383754 362.426891 L 371.943978 384.835854 L 373.064426 401.642577 L 373.62465 429.653782 L 373.064426 457.664986 L 371.383754 463.267227 L 362.420168 466.628571 L 354.577031 466.068347 L 345.613445 465.508123 L 337.770308 463.267227 L 332.168067 463.267227 L 328.806723 456.544538 L 326.565826 440.858263 L 324.32493 418.4493 L 322.644258 396.040336 L 320.963585 373.631373 L 320.403361 351.222409 z
" clip-path="url(#pe29794f8d5)" style="fill: #f8d0e7"/>
   </g>
   <g id="patch_62">
    <path d="M 331.047619 341.138375 L 336.64986 333.295238 L 343.372549 325.452101 L 351.215686 319.84986 L 357.938375 320.410084 L 364.661064 327.692997 L 367.462185 337.777031 L 368.022409 351.222409 L 367.462185 373.631373 L 366.901961 390.438095 L 368.022409 396.040336 L 369.142857 407.244818 L 369.703081 424.051541 L 368.582633 440.858263 L 367.462185 454.303641 L 361.29972 456.544538 L 351.215686 450.942297 L 343.372549 454.303641 L 336.64986 459.905882 L 332.168067 456.544538 L 329.927171 446.460504 L 328.246499 429.653782 L 326.005602 407.244818 L 326.565826 384.835854 L 329.927171 368.029132 L 331.047619 351.222409 z
" clip-path="url(#pe29794f8d5)" style="fill: #eeadd4"/>
   </g>
   <g id="patch_63">
    <path d="M 343.372549 335.536134 L 350.095238 330.494118 L 354.577031 330.494118 L 357.938375 333.295238 L 360.179272 340.017927 L 361.29972 348.981513 L 364.10084 347.861064 L 365.221289 356.82465 L 364.661064 373.631373 L 362.980392 384.835854 L 361.29972 396.040336 L 359.058824 405.003922 L 356.817927 408.365266 L 354.577031 410.606162 L 353.456583 418.4493 L 351.215686 424.051541 L 347.854342 429.653782 L 344.492997 437.496919 L 340.011204 440.858263 L 338.890756 452.062745 L 337.770308 454.303641 L 335.529412 449.821849 L 332.168067 452.062745 L 331.047619 440.858263 L 328.806723 429.653782 L 329.927171 412.847059 L 332.168067 396.040336 L 336.64986 384.835854 L 338.890756 373.631373 L 341.131653 356.82465 L 341.691877 345.620168 z
" clip-path="url(#pe29794f8d5)" style="fill: #e181b5"/>
   </g>
   <g id="patch_64">
    <path d="M 338.330532 415.648179 L 339.45098 424.051541 L 338.890756 429.653782 L 337.770308 436.936695 L 336.089636 433.015126 L 334.408964 427.412885 L 335.529412 421.810644 z
" clip-path="url(#pe29794f8d5)" style="fill: #d04493"/>
   </g>
   <g id="patch_65">
    <path d="M 378.666667 418.4493 L 379.787115 419.569748 L 380.347339 440.858263 L 379.787115 457.664986 L 378.666667 452.062745 z
" clip-path="url(#pe29794f8d5)" style="fill: #f8d0e7"/>
   </g>
   <g id="patch_66">
    <path d="M 375.266638 380.466463 L 376.313301 386.746446 L 378.929961 365.813171 L 380.499956 366.859834 L 381.54662 390.933101 L 382.069952 401.399738 L 380.499956 422.333014 L 380.709289 478.852857 L 374.219974 478.852857 L 373.17331 453.732926 z
" clip-path="url(#pe29794f8d5)" style="fill: #fbe7f2"/>
   </g>
   <g id="patch_67">
    <path d="M 383.116616 395.119756 L 383.639948 394.073092 L 387.826603 398.259747 L 389.91993 413.959703 L 394.106585 398.259747 L 395.153249 399.306411 L 396.199913 422.333014 L 399.339904 427.566332 L 401.433232 428.612996 L 403.526559 420.239686 L 404.573223 432.799651 L 404.573223 458.966245 L 406.66655 468.386219 L 408.759878 479.376188 L 385.733275 479.376188 L 384.686611 453.732926 L 383.430615 422.333014 z
" clip-path="url(#pe29794f8d5)" style="fill: #fbe7f2"/>
   </g>
   <g id="patch_68">
    <path d="M 377.883297 420.239686 L 379.24396 419.716354 L 379.453293 443.266289 L 378.615962 458.966245 L 377.883297 443.266289 z
" clip-path="url(#pe29794f8d5)" style="fill: #f8d0e7"/>
   </g>
   <g id="patch_69">
    <path d="M 389.396598 425.473005 L 390.966594 424.426341 L 392.22259 443.266289 L 391.803925 474.666201 L 389.91993 474.666201 z
" clip-path="url(#pe29794f8d5)" style="fill: #f8d0e7"/>
   </g>
   <g id="patch_70">
    <path d="M 394.315918 416.053031 L 395.362582 415.529699 L 396.199913 443.266289 L 398.29324 444.312952 L 398.502573 474.666201 L 394.629917 474.666201 z
" clip-path="url(#pe29794f8d5)" style="fill: #f8d0e7"/>
   </g>
   <g id="patch_71">
    <path d="M 400.9099 449.546271 L 401.956563 448.499608 L 402.06123 455.826254 L 401.014566 456.349586 z
" clip-path="url(#pe29794f8d5)" style="fill: #f8d0e7"/>
   </g>
   <g id="patch_72">
    <path d="M 414.888515 353.463305 L 418.24986 342.258824 L 423.852101 336.656583 L 428.333894 333.295238 L 432.255462 333.855462 L 433.37591 345.620168 L 433.936134 362.426891 L 435.056583 384.835854 L 435.616807 407.244818 L 435.056583 429.653782 L 433.936134 452.062745 L 432.815686 463.267227 L 429.454342 465.508123 L 427.213445 456.544538 L 422.731653 447.580952 L 417.689636 449.821849 L 416.008964 429.653782 L 414.328291 407.244818 L 414.328291 373.631373 L 414.664426 356.82465 z
" clip-path="url(#pe29794f8d5)" style="fill: #ebf6db"/>
   </g>
   <g id="patch_73">
    <path d="M 435.280672 342.258824 L 436.177031 341.138375 L 436.737255 373.631373 L 435.952941 396.040336 L 435.280672 373.631373 z
" clip-path="url(#pe29794f8d5)" style="fill: #ebf6db"/>
   </g>
   <g id="patch_74">
    <path d="M 437.857703 340.017927 L 438.978151 338.897479 L 439.538375 384.835854 L 438.978151 416.208403 L 438.193838 384.835854 z
" clip-path="url(#pe29794f8d5)" style="fill: #ebf6db"/>
   </g>
   <g id="patch_75">
    <path d="M 444.580392 372.510924 L 445.70084 372.510924 L 446.821289 396.040336 L 446.261064 415.087955 L 444.916527 396.040336 z
" clip-path="url(#pe29794f8d5)" style="fill: #ebf6db"/>
   </g>
   <g id="patch_76">
    <path d="M 419.370308 399.401681 L 422.731653 387.076751 L 423.628011 407.244818 L 422.955742 430.77423 L 421.611204 429.653782 L 419.370308 412.847059 z
" clip-path="url(#pe29794f8d5)" style="fill: #d2ecb0"/>
   </g>
   <g id="patch_77">
    <path d="M 427.773669 380.354062 L 429.454342 373.631373 L 431.695238 366.908683 L 432.815686 384.835854 L 433.37591 407.244818 L 433.712045 429.653782 L 433.37591 452.062745 L 431.695238 458.785434 L 428.894118 456.544538 L 427.773669 429.653782 L 427.54958 407.244818 z
" clip-path="url(#pe29794f8d5)" style="fill: #d2ecb0"/>
   </g>
   <g id="patch_78">
    <path d="M 430.57479 418.4493 L 432.031373 408.365266 L 432.815686 429.653782 L 432.815686 449.821849 L 431.135014 453.183193 L 429.454342 450.942297 L 429.678431 429.653782 z
" clip-path="url(#pe29794f8d5)" style="fill: #aeda7a"/>
   </g>
   <g id="patch_79">
    <path d="M 465.640994 353.418634 L 468.901863 346.896894 L 477.286957 347.828571 L 479.150311 356.213665 L 479.616149 378.573913 L 482.41118 361.803727 L 483.342857 382.300621 L 483.342857 424.226087 L 482.877019 459.629814 L 480.547826 458.698137 L 479.616149 475.468323 L 473.09441 475.468323 L 472.442236 447.518012 L 469.367702 438.201242 L 468.436025 475.468323 L 466.106832 475.468323 L 465.175155 438.201242 L 461.448447 430.747826 L 462.193789 400.934161 L 462.845963 378.573913 L 465.175155 371.120497 z
" clip-path="url(#pe29794f8d5)" style="fill: #fbe7f2"/>
   </g>
   <g id="patch_80">
    <path d="M 472.162733 389.754037 L 473.560248 388.82236 L 474.491925 414.909317 L 476.35528 415.840994 L 476.541615 389.754037 L 478.218634 388.356522 L 479.150311 419.567702 L 479.616149 442.859627 L 480.547826 461.493168 L 479.150311 475.468323 L 477.752795 466.151553 L 476.35528 447.518012 L 474.491925 452.176398 L 474.026087 475.468323 L 472.628571 473.604969 L 472.162733 447.518012 L 471.231056 419.567702 z
" clip-path="url(#pe29794f8d5)" style="fill: #f8d0e7"/>
   </g>
   <g id="patch_81">
    <path d="M 465.175155 414.909317 L 466.572671 413.97764 L 467.038509 433.542857 L 466.572671 475.468323 L 465.640994 461.493168 L 464.98882 428.884472 z
" clip-path="url(#pe29794f8d5)" style="fill: #f8d0e7"/>
   </g>
   <g id="patch_82">
    <path d="M 472.442236 419.567702 L 473.560248 417.704348 L 474.491925 428.884472 L 474.026087 443.791304 L 472.814907 438.201242 z
" clip-path="url(#pe29794f8d5)" style="fill: #eeadd4"/>
   </g>
   <g id="patch_83">
    <path d="M 476.821118 417.704348 L 478.218634 415.840994 L 478.963975 424.226087 L 478.218634 435.406211 L 477.100621 428.884472 z
" clip-path="url(#pe29794f8d5)" style="fill: #eeadd4"/>
   </g>
   <g id="patch_84">
    <path d="M 478.684472 440.996273 L 479.616149 440.064596 L 480.081988 452.176398 L 479.336646 454.971429 z
" clip-path="url(#pe29794f8d5)" style="fill: #eeadd4"/>
   </g>
   <g id="patch_85">
    <path d="M 451.863305 421.810644 L 454.104202 420.690196 L 454.664426 452.062745 L 454.104202 476.712605 L 451.863305 476.712605 z
" clip-path="url(#pe29794f8d5)" style="fill: #fbe7f2"/>
   </g>
   <g id="patch_86">
    <path d="M 443.459944 469.989916 L 445.140616 467.74902 L 446.261064 478.953501 L 443.459944 478.953501 z
" clip-path="url(#pe29794f8d5)" style="fill: #fbe7f2"/>
   </g>
   <g id="patch_87">
    <path d="M 103.156364 408.872727 L 108.829091 408.872727 L 109.003636 411.927273 L 109.701818 418.909091 L 111.447273 432 L 112.32 451.2 L 114.065455 479.563636 L 103.156364 479.563636 z
" clip-path="url(#pe29794f8d5)" style="fill: #ffffff"/>
   </g>
   <g id="patch_88">
    <path d="M 138.065455 452.945455 L 141.12 451.636364 L 141.992727 479.563636 L 138.501818 479.563636 z
" clip-path="url(#pe29794f8d5)" style="fill: #ffffff"/>
   </g>
   <g id="matplotlib.axis_5">
    <g id="xtick_8">
     <g id="line2d_32">
      <g>
       <path d="M 0 0 L 0 3.5 " transform="translate(103.4892 478.2888)" style="stroke: #000000"/>
      </g>
     </g>
     <g id="text_35">
      <text style="font-size: 8px; font-family: 'DejaVu Sans', 'Liberation Sans', sans-serif; text-anchor: middle" x="103.4892" y="490.7915" transform="rotate(-0 103.4892 490.7915)">−90</text>
     </g>
    </g>
    <g id="xtick_9">
     <g id="line2d_33">
      <g>
       <path d="M 0 0 L 0 3.5 " transform="translate(169.4322 478.2888)" style="stroke: #000000"/>
      </g>
     </g>
     <g id="text_36">
      <text style="font-size: 8px; font-family: 'DejaVu Sans', 'Liberation Sans', sans-serif; text-anchor: middle" x="169.4322" y="490.7915" transform="rotate(-0 169.4322 490.7915)">−60</text>
     </g>
    </g>
    <g id="xtick_10">
     <g id="line2d_34">
      <g>
       <path d="M 0 0 L 0 3.5 " transform="translate(235.3752 478.2888)" style="stroke: #000000"/>
      </g>
     </g>
     <g id="text_37">
      <text style="font-size: 8px; font-family: 'DejaVu Sans', 'Liberation Sans', sans-serif; text-anchor: middle" x="235.3752" y="490.7915" transform="rotate(-0 235.3752 490.7915)">−30</text>
     </g>
    </g>
    <g id="xtick_11">
     <g id="line2d_35">
      <g>
       <path d="M 0 0 L 0 3.5 " transform="translate(301.3182 478.2888)" style="stroke: #000000"/>
      </g>
     </g>
     <g id="text_38">
      <text style="font-size: 8px; font-family: 'DejaVu Sans', 'Liberation Sans', sans-serif; text-anchor: middle" x="301.3182" y="490.7915" transform="rotate(-0 301.3182 490.7915)">0</text>
     </g>
    </g>
    <g id="xtick_12">
     <g id="line2d_36">
      <g>
       <path d="M 0 0 L 0 3.5 " transform="translate(367.2612 478.2888)" style="stroke: #000000"/>
      </g>
     </g>
     <g id="text_39">
      <text style="font-size: 8px; font-family: 'DejaVu Sans', 'Liberation Sans', sans-serif; text-anchor: middle" x="367.2612" y="490.7915" transform="rotate(-0 367.2612 490.7915)">30</text>
     </g>
    </g>
    <g id="xtick_13">
     <g id="line2d_37">
      <g>
       <path d="M 0 0 L 0 3.5 " transform="translate(433.2042 478.2888)" style="stroke: #000000"/>
      </g>
     </g>
     <g id="text_40">
      <text style="font-size: 8px; font-family: 'DejaVu Sans', 'Liberation Sans', sans-serif; text-anchor: middle" x="433.2042" y="490.7915" transform="rotate(-0 433.2042 490.7915)">60</text>
     </g>
    </g>
    <g id="xtick_14">
     <g id="line2d_38">
      <g>
       <path d="M 0 0 L 0 3.5 " transform="translate(499.1472 478.2888)" style="stroke: #000000"/>
      </g>
     </g>
     <g id="text_41">
      <text style="font-size: 8px; font-family: 'DejaVu Sans', 'Liberation Sans', sans-serif; text-anchor: middle" x="499.1472" y="490.7915" transform="rotate(-0 499.1472 490.7915)">90</text>
     </g>
    </g>
   </g>
   <g id="matplotlib.axis_6">
    <g id="ytick_25">
     <g id="line2d_39">
      <g>
       <path d="M 0 0 L -3.5 0 " transform="translate(103.4892 299.4552)" style="stroke: #000000"/>
      </g>
     </g>
     <g id="text_42">
      <text style="font-size: 8px; font-family: 'DejaVu Sans', 'Liberation Sans', sans-serif; text-anchor: end" x="96.4892" y="301.9186" transform="rotate(-0 96.4892 301.9186)">100</text>
     </g>
    </g>
    <g id="ytick_26">
     <g id="line2d_40">
      <g>
       <path d="M 0 0 L -3.5 0 " transform="translate(103.4892 319.3256)" style="stroke: #000000"/>
      </g>
     </g>
     <g id="text_43">
      <text style="font-size: 8px; font-family: 'DejaVu Sans', 'Liberation Sans', sans-serif; text-anchor: end" x="96.4892" y="321.7890" transform="rotate(-0 96.4892 321.7890)">200</text>
     </g>
    </g>
    <g id="ytick_27">
     <g id="line2d_41">
      <g>
       <path d="M 0 0 L -3.5 0 " transform="translate(103.4892 339.196)" style="stroke: #000000"/>
      </g>
     </g>
     <g id="text_44">
      <text style="font-size: 8px; font-family: 'DejaVu Sans', 'Liberation Sans', sans-serif; text-anchor: end" x="96.4892" y="341.6594" transform="rotate(-0 96.4892 341.6594)">300</text>
     </g>
    </g>
    <g id="ytick_28">
     <g id="line2d_42">
      <g>
       <path d="M 0 0 L -3.5 0 " transform="translate(103.4892 359.0664)" style="stroke: #000000"/>
      </g>
     </g>
     <g id="text_45">
      <text style="font-size: 8px; font-family: 'DejaVu Sans', 'Liberation Sans', sans-serif; text-anchor: end" x="96.4892" y="361.5298" transform="rotate(-0 96.4892 361.5298)">400</text>
     </g>
    </g>
    <g id="ytick_29">
     <g id="line2d_43">
      <g>
       <path d="M 0 0 L -3.5 0 " transform="translate(103.4892 378.9368)" style="stroke: #000000"/>
      </g>
     </g>
     <g id="text_46">
      <text style="font-size: 8px; font-family: 'DejaVu Sans', 'Liberation Sans', sans-serif; text-anchor: end" x="96.4892" y="381.4002" transform="rotate(-0 96.4892 381.4002)">500</text>
     </g>
    </g>
    <g id="ytick_30">
     <g id="line2d_44">
      <g>
       <path d="M 0 0 L -3.5 0 " transform="translate(103.4892 398.8072)" style="stroke: #000000"/>
      </g>
     </g>
     <g id="text_47">
      <text style="font-size: 8px; font-family: 'DejaVu Sans', 'Liberation Sans', sans-serif; text-anchor: end" x="96.4892" y="401.2706" transform="rotate(-0 96.4892 401.2706)">600</text>
     </g>
    </g>
    <g id="ytick_31">
     <g id="line2d_45">
      <g>
       <path d="M 0 0 L -3.5 0 " transform="translate(103.4892 418.6776)" style="stroke: #000000"/>
      </g>
     </g>
     <g id="text_48">
      <text style="font-size: 8px; font-family: 'DejaVu Sans', 'Liberation Sans', sans-serif; text-anchor: end" x="96.4892" y="421.1410" transform="rotate(-0 96.4892 421.1410)">700</text>
     </g>
    </g>
    <g id="ytick_32">
     <g id="line2d_46">
      <g>
       <path d="M 0 0 L -3.5 0 " transform="translate(103.4892 438.548)" style="stroke: #000000"/>
      </g>
     </g>
     <g id="text_49">
      <text style="font-size: 8px; font-family: 'DejaVu Sans', 'Liberation Sans', sans-serif; text-anchor: end" x="96.4892" y="441.0114" transform="rotate(-0 96.4892 441.0114)">800</text>
     </g>
    </g>
    <g id="ytick_33">
     <g id="line2d_47">
      <g>
       <path d="M 0 0 L -3.5 0 " transform="translate(103.4892 458.4184)" style="stroke: #000000"/>
      </g>
     </g>
     <g id="text_50">
      <text style="font-size: 8px; font-family: 'DejaVu Sans', 'Liberation Sans', sans-serif; text-anchor: end" x="96.4892" y="460.8818" transform="rotate(-0 96.4892 460.8818)">900</text>
     </g>
    </g>
    <g id="ytick_34">
     <g id="line2d_48">
      <g>
       <path d="M 0 0 L -3.5 0 " transform="translate(103.4892 478.2888)" style="stroke: #000000"/>
      </g>
     </g>
     <g id="text_51">
      <text style="font-size: 8px; font-family: 'DejaVu Sans', 'Liberation Sans', sans-serif; text-anchor: end" x="96.4892" y="480.7522" transform="rotate(-0 96.4892 480.7522)">1000</text>
     </g>
    </g>
    <g id="text_52">
     <g transform="translate(-1.0560 0.6720)"><text style="font-size: 20px; font-family: 'DejaVu Sans', 'Liberation Sans', sans-serif; text-anchor: middle" x="67.969825" y="388.872" transform="rotate(-90 67.969825 388.872)">pressure (mb)</text></g>
    </g>
   </g>
   <g id="patch_89">
    <path d="M 103.4892 478.2888 L 103.4892 299.4552 " style="fill: none; stroke: #000000; stroke-width: 0.8; stroke-linejoin: miter; stroke-linecap: square"/>
   </g>
   <g id="patch_90">
    <path d="M 499.1472 478.2888 L 499.1472 299.4552 " style="fill: none; stroke: #000000; stroke-width: 0.8; stroke-linejoin: miter; stroke-linecap: square"/>
   </g>
   <g id="patch_91">
    <path d="M 103.4892 478.2888 L 499.1472 478.2888 " style="fill: none; stroke: #000000; stroke-width: 0.8; stroke-linejoin: miter; stroke-linecap: square"/>
   </g>
   <g id="patch_92">
    <path d="M 103.4892 299.4552 L 499.1472 299.4552 " style="fill: none; stroke: #000000; stroke-width: 0.8; stroke-linejoin: miter; stroke-linecap: square"/>
   </g>
   <g id="text_53">
    <text style="font-size: 9.5px; font-family: 'DejaVu Sans', 'Liberation Sans', sans-serif; text-anchor: start" x="103.4892" y="293.9352" transform="rotate(-0 103.4892 293.9352)">MERRA2 (1980-2016)</text>
   </g>
   <g id="text_54">
    <text style="font-size: 9.5px; font-family: 'DejaVu Sans', 'Liberation Sans', sans-serif; text-anchor: end" x="499.1472" y="293.9352" transform="rotate(-0 499.1472 293.9352)">mbar/day</text>
   </g>
  </g>
  <g id="axes_4">
   <g id="patch_93">
    <path d="M 509.5512 454.8096 L 529.5024 454.8096 L 529.5024 325.7856 L 509.5512 325.7856 z
" style="fill: #ffffff"/>
   </g>
   <g id="patch_94">
    <path d="M 509.5512 454.8096 L 519.5268 461.2608 L 529.5024 454.8096 z" style="fill: #276419; stroke: #276419; stroke-width: 0.6; stroke-linejoin: miter"/>
   </g>
   <g id="patch_95">
    <path d="M 509.5512 325.7856 L 519.5268 319.3344 L 529.5024 325.7856 z" style="fill: #8e0152; stroke: #8e0152; stroke-width: 0.6; stroke-linejoin: miter"/>
   </g>
   <g id="QuadMesh_2">
    <path d="M 509.5512 454.8096 L 529.5024 454.8096 L 529.5024 446.208 L 509.5512 446.208 L 509.5512 454.8096 " clip-path="url(#p6719b12ec1)" style="fill: #276419; stroke: #276419; stroke-width: 0.6"/>
    <path d="M 509.5512 446.208 L 529.5024 446.208 L 529.5024 437.6064 L 509.5512 437.6064 L 509.5512 446.208 " clip-path="url(#p6719b12ec1)" style="fill: #42841f; stroke: #42841f; stroke-width: 0.6"/>
    <path d="M 509.5512 437.6064 L 529.5024 437.6064 L 529.5024 429.0048 L 509.5512 429.0048 L 509.5512 437.6064 " clip-path="url(#p6719b12ec1)" style="fill: #62a32e; stroke: #62a32e; stroke-width: 0.6"/>
    <path d="M 509.5512 429.0048 L 529.5024 429.0048 L 529.5024 420.4032 L 509.5512 420.4032 L 509.5512 429.0048 " clip-path="url(#p6719b12ec1)" style="fill: #86c049; stroke: #86c049; stroke-width: 0.6"/>
    <path d="M 509.5512 420.4032 L 529.5024 420.4032 L 529.5024 411.8016 L 509.5512 411.8016 L 509.5512 420.4032 " clip-path="url(#p6719b12ec1)" style="fill: #aeda7a; stroke: #aeda7a; stroke-width: 0.6"/>
    <path d="M 509.5512 411.8016 L 529.5024 411.8016 L 529.5024 403.2 L 509.5512 403.2 L 509.5512 411.8016 " clip-path="url(#p6719b12ec1)" style="fill: #d2ecb0; stroke: #d2ecb0; stroke-width: 0.6"/>
    <path d="M 509.5512 403.2 L 529.5024 403.2 L 529.5024 394.5984 L 509.5512 394.5984 L 509.5512 403.2 " clip-path="url(#p6719b12ec1)" style="fill: #ebf6db; stroke: #ebf6db; stroke-width: 0.6"/>
    <path d="M 509.5512 394.5984 L 529.5024 394.5984 L 529.5024 385.9968 L 509.5512 385.9968 L 509.5512 394.5984 " clip-path="url(#p6719b12ec1)" style="fill: #f7f7f6; stroke: #f7f7f6; stroke-width: 0.6"/>
    <path d="M 509.5512 385.9968 L 529.5024 385.9968 L 529.5024 377.3952 L 509.5512 377.3952 L 509.5512 385.9968 " clip-path="url(#p6719b12ec1)" style="fill: #fbe7f2; stroke: #fbe7f2; stroke-width: 0.6"/>
    <path d="M 509.5512 377.3952 L 529.5024 377.3952 L 529.5024 368.7936 L 509.5512 368.7936 L 509.5512 377.3952 " clip-path="url(#p6719b12ec1)" style="fill: #f8d0e7; stroke: #f8d0e7; stroke-width: 0.6"/>
    <path d="M 509.5512 368.7936 L 529.5024 368.7936 L 529.5024 360.192 L 509.5512 360.192 L 509.5512 368.7936 " clip-path="url(#p6719b12ec1)" style="fill: #eeadd4; stroke: #eeadd4; stroke-width: 0.6"/>
    <path d="M 509.5512 360.192 L 529.5024 360.192 L 529.5024 351.5904 L 509.5512 351.5904 L 509.5512 360.192 " clip-path="url(#p6719b12ec1)" style="fill: #e181b5; stroke: #e181b5; stroke-width: 0.6"/>
    <path d="M 509.5512 351.5904 L 529.5024 351.5904 L 529.5024 342.9888 L 509.5512 342.9888 L 509.5512 351.5904 " clip-path="url(#p6719b12ec1)" style="fill: #d04493; stroke: #d04493; stroke-width: 0.6"/>
    <path d="M 509.5512 342.9888 L 529.5024 342.9888 L 529.5024 334.3872 L 509.5512 334.3872 L 509.5512 342.9888 " clip-path="url(#p6719b12ec1)" style="fill: #b71472; stroke: #b71472; stroke-width: 0.6"/>
    <path d="M 509.5512 334.3872 L 529.5024 334.3872 L 529.5024 325.7856 L 509.5512 325.7856 L 509.5512 334.3872 " clip-path="url(#p6719b12ec1)" style="fill: #8e0152; stroke: #8e0152; stroke-width: 0.6"/>
   </g>
   <g id="matplotlib.axis_7"/>
   <g id="matplotlib.axis_8">
    <g id="ytick_35">
     <g id="line2d_49"/>
     <g id="text_55">
      <text style="font-size: 9px; font-family: 'DejaVu Sans', 'Liberation Sans', sans-serif; text-anchor: end" x="554.5024" y="449.627297" transform="rotate(-0 554.5024 449.627297)">-35.0</text>
     </g>
    </g>
    <g id="ytick_36">
     <g id="line2d_50"/>
     <g id="text_56">
      <text style="font-size: 9px; font-family: 'DejaVu Sans', 'Liberation Sans', sans-serif; text-anchor: end" x="554.5024" y="441.025697" transform="rotate(-0 554.5024 441.025697)">-30.0</text>
     </g>
    </g>
    <g id="ytick_37">
     <g id="line2d_51"/>
     <g id="text_57">
      <text style="font-size: 9px; font-family: 'DejaVu Sans', 'Liberation Sans', sans-serif; text-anchor: end" x="554.5024" y="432.424097" transform="rotate(-0 554.5024 432.424097)">-25.0</text>
     </g>
    </g>
    <g id="ytick_38">
     <g id="line2d_52"/>
     <g id="text_58">
      <text style="font-size: 9px; font-family: 'DejaVu Sans', 'Liberation Sans', sans-serif; text-anchor: end" x="554.5024" y="423.822497" transform="rotate(-0 554.5024 423.822497)">-20.0</text>
     </g>
    </g>
    <g id="ytick_39">
     <g id="line2d_53"/>
     <g id="text_59">
      <text style="font-size: 9px; font-family: 'DejaVu Sans', 'Liberation Sans', sans-serif; text-anchor: end" x="554.5024" y="415.220897" transform="rotate(-0 554.5024 415.220897)">-15.0</text>
     </g>
    </g>
    <g id="ytick_40">
     <g id="line2d_54"/>
     <g id="text_60">
      <text style="font-size: 9px; font-family: 'DejaVu Sans', 'Liberation Sans', sans-serif; text-anchor: end" x="554.5024" y="406.619297" transform="rotate(-0 554.5024 406.619297)">-10.0</text>
     </g>
    </g>
    <g id="ytick_41">
     <g id="line2d_55"/>
     <g id="text_61">
      <text style="font-size: 9px; font-family: 'DejaVu Sans', 'Liberation Sans', sans-serif; text-anchor: end" x="554.5024" y="398.017697" transform="rotate(-0 554.5024 398.017697)"> -5.0</text>
     </g>
    </g>
    <g id="ytick_42">
     <g id="line2d_56"/>
     <g id="text_62">
      <text style="font-size: 9px; font-family: 'DejaVu Sans', 'Liberation Sans', sans-serif; text-anchor: end" x="554.5024" y="389.416097" transform="rotate(-0 554.5024 389.416097)">  5.0</text>
     </g>
    </g>
    <g id="ytick_43">
     <g id="line2d_57"/>
     <g id="text_63">
      <text style="font-size: 9px; font-family: 'DejaVu Sans', 'Liberation Sans', sans-serif; text-anchor: end" x="554.5024" y="380.814497" transform="rotate(-0 554.5024 380.814497)"> 10.0</text>
     </g>
    </g>
    <g id="ytick_44">
     <g id="line2d_58"/>
     <g id="text_64">
      <text style="font-size: 9px; font-family: 'DejaVu Sans', 'Liberation Sans', sans-serif; text-anchor: end" x="554.5024" y="372.212897" transform="rotate(-0 554.5024 372.212897)"> 15.0</text>
     </g>
    </g>
    <g id="ytick_45">
     <g id="line2d_59"/>
     <g id="text_65">
      <text style="font-size: 9px; font-family: 'DejaVu Sans', 'Liberation Sans', sans-serif; text-anchor: end" x="554.5024" y="363.611297" transform="rotate(-0 554.5024 363.611297)"> 20.0</text>
     </g>
    </g>
    <g id="ytick_46">
     <g id="line2d_60"/>
     <g id="text_66">
      <text style="font-size: 9px; font-family: 'DejaVu Sans', 'Liberation Sans', sans-serif; text-anchor: end" x="554.5024" y="355.009697" transform="rotate(-0 554.5024 355.009697)"> 25.0</text>
     </g>
    </g>
    <g id="ytick_47">
     <g id="line2d_61"/>
     <g id="text_67">
      <text style="font-size: 9px; font-family: 'DejaVu Sans', 'Liberation Sans', sans-serif; text-anchor: end" x="554.5024" y="346.408097" transform="rotate(-0 554.5024 346.408097)"> 30.0</text>
     </g>
    </g>
    <g id="ytick_48">
     <g id="line2d_62"/>
     <g id="text_68">
      <text style="font-size: 9px; font-family: 'DejaVu Sans', 'Liberation Sans', sans-serif; text-anchor: end" x="554.5024" y="337.806497" transform="rotate(-0 554.5024 337.806497)"> 35.0</text>
     </g>
    </g>
   </g>
   <g id="LineCollection_2"/>
   <g id="patch_96">
    <path d="M 509.5512 454.8096 L 519.5268 461.2608 L 529.5024 454.8096 L 529.5024 325.7856 L 519.5268 319.3344 L 509.5512 325.7856 L 509.5512 454.8096 z
" style="fill: none; stroke: #000000; stroke-width: 0.8; stroke-linejoin: miter; stroke-linecap: square"/>
   </g>
  </g>
  <g id="axes_5">
   <g id="patch_97">
    <path d="M 103.4892 703.9296 L 499.1472 703.9296 L 499.1472 525.096 L 103.4892 525.096 z
" style="fill: #ffffff"/>
   </g>
   <g id="QuadContourSet_3">
   </g>
   <g id="patch_98">
    <path d="M 103.039851 557.197573 L 111.999253 556.413626 L 123.198507 554.957723 L 136.413626 554.173775 L 139.437424 559.997387 L 142.237238 571.19664 L 143.357163 587.99552 L 143.917126 610.394027 L 143.581148 627.192907 L 145.037051 643.991787 L 146.156976 654.071115 L 142.237238 659.670742 L 137.757536 667.510219 L 134.39776 677.589547 L 119.614746 677.589547 L 103.039851 656.310966 z
" clip-path="url(#pea891606ec)" style="fill: #dae0ff"/>
   </g>
   <g id="patch_99">
    <path d="M 103.039851 635.032385 L 106.399627 621.59328 L 108.639477 599.194774 L 111.439291 587.99552 L 115.918992 577.916192 L 123.198507 573.436491 L 131.037984 568.95679 L 136.413626 566.492954 L 138.877462 571.19664 L 140.55735 582.395894 L 141.117312 599.194774 L 141.677275 621.59328 L 142.237238 638.392161 L 143.917126 653.511153 L 139.997387 659.670742 L 136.637611 666.390294 L 133.277835 677.589547 L 119.614746 677.589547 L 103.039851 656.310966 z
" clip-path="url(#pea891606ec)" style="fill: #b6c2ff"/>
   </g>
   <g id="patch_100">
    <path d="M 109.759403 634.472422 L 113.119179 615.993654 L 116.478955 602.55455 L 120.398693 592.475222 L 128.798133 584.635744 L 136.413626 578.476155 L 137.757536 587.99552 L 138.877462 610.394027 L 139.997387 632.792534 L 141.117312 649.591414 L 141.677275 654.071115 L 137.757536 660.790667 L 134.39776 668.630145 L 132.157909 677.589547 L 119.614746 677.589547 L 103.039851 656.310966 L 103.039851 635.032385 z
" clip-path="url(#pea891606ec)" style="fill: #90a2ff"/>
   </g>
   <g id="patch_101">
    <path d="M 115.359029 634.472422 L 118.718805 621.59328 L 120.398693 612.633878 L 127.678208 607.034251 L 136.413626 599.194774 L 136.861596 615.993654 L 138.317499 632.792534 L 139.437424 652.95119 L 136.637611 658.550817 L 133.277835 666.390294 L 131.037984 677.589547 L 119.614746 677.589547 L 103.039851 656.310966 L 103.039851 635.592347 z
" clip-path="url(#pea891606ec)" style="fill: #6c84ff"/>
   </g>
   <g id="patch_102">
    <path d="M 103.039851 635.592347 L 115.359029 634.472422 L 120.398693 622.937191 L 136.413626 626.072982 L 137.197573 643.991787 L 137.757536 654.071115 L 134.957723 659.670742 L 132.157909 666.390294 L 130.142044 677.589547 L 119.614746 677.589547 L 103.039851 656.310966 z
" clip-path="url(#pea891606ec)" style="fill: #4866ff"/>
   </g>
   <g id="patch_103">
    <path d="M 103.039851 636.15231 L 111.999253 640.072049 L 119.838731 643.431825 L 125.438357 654.071115 L 127.678208 677.589547 L 119.614746 677.589547 L 103.039851 656.310966 z
" clip-path="url(#pea891606ec)" style="fill: #2448ff"/>
   </g>
   <g id="patch_104">
    <path d="M 103.039851 639.512086 L 119.278768 654.071115 L 119.838731 666.390294 L 124.542417 677.589547 L 119.614746 677.589547 L 103.039851 656.310966 z
" clip-path="url(#pea891606ec)" style="fill: #002aff"/>
   </g>
   <g id="patch_105">
    <path d="M 152.316566 563.357163 L 156.796267 556.637611 L 163.515819 551.597947 L 169.115446 549.358096 L 186.474288 549.358096 L 190.394027 552.157909 L 192.633878 558.877462 L 193.19384 576.796267 L 192.857863 599.194774 L 192.073915 621.59328 L 191.513952 643.991787 L 190.394027 660.790667 L 189.274102 675.349697 L 185.914326 683.189174 L 181.434624 688.788801 L 179.194774 692.708539 L 172.475222 683.189174 L 169.115446 677.589547 L 136.637611 677.589547 L 141.117312 670.869995 L 147.836864 660.790667 L 151.19664 654.071115 L 150.076715 643.991787 L 148.396827 632.792534 L 147.836864 610.394027 L 148.95679 587.99552 L 150.076715 571.19664 z
" clip-path="url(#pea891606ec)" style="fill: #ffe2dc"/>
   </g>
   <g id="patch_106">
    <path d="M 152.316566 584.635744 L 156.796267 575.676342 L 162.395894 567.836864 L 169.115446 560.55735 L 176.954923 562.7972 L 186.474288 565.597014 L 187.594214 576.796267 L 188.154176 599.194774 L 187.594214 621.59328 L 187.034251 643.991787 L 185.914326 660.790667 L 184.7944 675.349697 L 181.434624 683.189174 L 178.074848 688.788801 L 172.475222 683.189174 L 169.115446 677.589547 L 144.477088 677.589547 L 148.95679 669.75007 L 153.436491 659.670742 L 154.556416 654.071115 L 152.316566 649.591414 L 150.076715 638.392161 L 149.180775 621.59328 L 149.516752 604.7944 L 150.636678 593.595147 z
" clip-path="url(#pea891606ec)" style="fill: #ffc4b8"/>
   </g>
   <g id="patch_107">
    <path d="M 152.316566 605.914326 L 155.676342 599.194774 L 161.275968 587.99552 L 169.115446 574.556416 L 174.15511 577.916192 L 179.194774 587.99552 L 180.874662 599.194774 L 181.434624 621.59328 L 181.658609 643.991787 L 180.874662 660.790667 L 180.314699 677.589547 L 176.954923 685.429025 L 174.15511 680.949323 L 169.115446 677.589547 L 152.316566 677.589547 L 156.796267 666.390294 L 159.59608 654.071115 L 156.236304 649.591414 L 152.876528 641.751937 L 151.756603 632.792534 L 151.756603 615.993654 z
" clip-path="url(#pea891606ec)" style="fill: #ffa492"/>
   </g>
   <g id="patch_108">
    <path d="M 155.676342 634.472422 L 160.156043 624.953056 L 164.635744 617.113579 L 169.115446 602.55455 L 170.795334 610.394027 L 173.595147 621.59328 L 174.15511 632.792534 L 174.715072 655.191041 L 175.275035 677.589547 L 172.475222 680.949323 L 169.115446 677.589547 L 160.156043 677.589547 L 162.955856 666.390294 L 165.195707 654.071115 L 161.275968 643.991787 z
" clip-path="url(#pea891606ec)" style="fill: #ff866e"/>
   </g>
   <g id="patch_109">
    <path d="M 167.771535 677.589547 L 169.115446 665.830331 L 170.235371 669.75007 L 171.131311 679.829398 L 169.115446 679.829398 z
" clip-path="url(#pea891606ec)" style="fill: #ff684a"/>
   </g>
   <g id="patch_110">
    <path d="M 202.639291 582.395894 L 208.79888 575.676342 L 215.518432 567.836864 L 218.878208 560.55735 L 224.477835 563.917126 L 230.637424 567.836864 L 232.317312 574.556416 L 233.9972 583.515819 L 235.117126 591.355296 L 235.677088 576.796267 L 236.797014 567.836864 L 240.15679 559.997387 L 245.756416 556.637611 L 253.035931 552.717872 L 259.19552 551.597947 L 268.714886 550.478021 L 272.634624 543.198507 L 274.314512 536.478955 L 280.474102 533.679141 L 283.833878 531.999253 L 292.159403 533.119179 L 301.118805 534.799067 L 304.478581 538.718805 L 306.158469 543.198507 L 306.718432 547.678208 L 305.598507 554.39776 L 302.238731 563.357163 L 296.639104 571.19664 L 293.279328 576.796267 L 291.039477 587.99552 L 289.919552 610.394027 L 289.359589 632.792534 L 288.239664 655.191041 L 287.679701 677.589547 L 286.559776 683.189174 L 284.953803 689.908726 L 269.274848 692.148577 L 253.035931 688.228838 L 235.117126 687.668875 L 230.077462 694.388427 L 222.237984 705.027718 L 182.55455 705.027718 L 185.914326 699.988054 L 190.394027 692.148577 L 197.113579 683.189174 L 198.793467 666.390294 L 199.35343 643.991787 L 199.913392 621.59328 L 200.473355 599.194774 L 200.959403 587.99552 z
" clip-path="url(#pea891606ec)" style="fill: #dae0ff"/>
   </g>
   <g id="patch_111">
    <path d="M 206.559029 615.993654 L 212.158656 607.034251 L 218.654223 599.194774 L 222.237984 608.154176 L 225.037797 617.113579 L 226.717685 632.792534 L 227.837611 649.591414 L 230.077462 666.390294 L 232.317312 676.469622 L 227.837611 683.189174 L 222.237984 691.028651 L 217.758283 697.748203 L 206.559029 701.107979 L 198.719552 705.027718 L 187.594214 705.027718 L 193.753803 692.148577 L 198.233504 682.069249 L 201.59328 675.349697 L 200.959403 677.589547 L 202.639291 655.191041 L 203.199253 632.792534 L 204.879141 621.59328 z
" clip-path="url(#pea891606ec)" style="fill: #b6c2ff"/>
   </g>
   <g id="patch_112">
    <path d="M 243.516566 587.99552 L 246.876342 577.916192 L 253.035931 567.836864 L 259.19552 559.997387 L 269.274848 556.637611 L 272.074662 551.037984 L 274.874475 546.558283 L 279.354176 538.718805 L 283.833878 534.799067 L 285.439851 534.239104 L 294.399253 536.478955 L 299.99888 542.078581 L 303.358656 546.558283 L 302.798693 554.39776 L 298.878955 563.357163 L 294.399253 570.076715 L 291.039477 576.796267 L 288.239664 587.99552 L 287.119739 610.394027 L 286.559776 632.792534 L 285.999813 655.191041 L 284.879888 677.589547 L 284.953803 679.829398 L 279.354176 682.069249 L 269.274848 685.429025 L 259.19552 680.949323 L 255.275782 677.589547 L 253.035931 666.390294 L 249.116192 655.191041 L 245.756416 643.991787 L 243.516566 632.792534 L 242.39664 610.394027 L 242.956603 599.194774 z
" clip-path="url(#pea891606ec)" style="fill: #b6c2ff"/>
   </g>
   <g id="patch_113">
    <path d="M 248.55623 610.394027 L 250.236118 599.194774 L 254.155856 587.99552 L 259.19552 568.95679 L 263.675222 563.357163 L 271.514699 558.877462 L 273.75455 554.39776 L 277.114326 546.558283 L 281.594027 540.958656 L 284.953803 537.59888 L 287.679701 539.278768 L 294.399253 542.078581 L 299.99888 546.558283 L 296.639104 554.39776 L 292.159403 563.357163 L 287.679701 571.19664 L 285.439851 576.796267 L 284.319925 587.99552 L 283.759963 610.394027 L 283.2 632.792534 L 284.39384 654.071115 L 279.354176 666.390294 L 272.634624 676.469622 L 268.154923 678.709473 L 263.675222 676.469622 L 259.19552 666.390294 L 254.715819 652.95119 L 251.356043 638.392161 L 249.116192 627.192907 z
" clip-path="url(#pea891606ec)" style="fill: #90a2ff"/>
   </g>
   <g id="patch_114">
    <path d="M 207.118992 677.029585 L 208.79888 655.191041 L 211.598693 641.751937 L 215.518432 632.792534 L 218.654223 628.872795 L 221.678021 641.751937 L 224.477835 655.191041 L 226.157723 666.390294 L 226.941671 677.589547 L 222.237984 683.189174 L 218.878208 688.788801 L 213.278581 683.189174 z
" clip-path="url(#pea891606ec)" style="fill: #90a2ff"/>
   </g>
   <g id="patch_115">
    <path d="M 214.398507 677.029585 L 218.654223 660.230705 L 221.678021 676.469622 L 218.878208 680.949323 z
" clip-path="url(#pea891606ec)" style="fill: #6c84ff"/>
   </g>
   <g id="patch_116">
    <path d="M 254.155856 610.394027 L 256.395707 593.595147 L 259.19552 579.036118 L 261.435371 571.19664 L 265.915072 567.276902 L 278.234251 568.396827 L 279.354176 587.99552 L 279.914139 610.394027 L 279.914139 632.792534 L 278.234251 655.191041 L 272.634624 666.390294 L 268.714886 669.190107 L 263.675222 659.670742 L 259.19552 649.591414 L 256.395707 632.792534 z
" clip-path="url(#pea891606ec)" style="fill: #6c84ff"/>
   </g>
   <g id="patch_117">
    <path d="M 279.354176 558.877462 L 281.594027 545.438357 L 284.953803 541.518619 L 290.55343 544.318432 L 286.559776 540.958656 L 293.279328 546.558283 L 289.919552 554.39776 L 285.439851 564.477088 L 284.953803 565.597014 z
" clip-path="url(#pea891606ec)" style="fill: #6c84ff"/>
   </g>
   <g id="patch_118">
    <path d="M 257.515632 610.394027 L 259.19552 587.99552 L 263.675222 576.796267 L 268.154923 572.316566 L 273.75455 577.916192 L 276.554363 587.99552 L 277.114326 610.394027 L 275.434438 632.792534 L 273.194587 649.591414 L 272.074662 654.071115 L 268.154923 660.230705 L 263.675222 649.591414 L 260.315446 632.792534 z
" clip-path="url(#pea891606ec)" style="fill: #4866ff"/>
   </g>
   <g id="patch_119">
    <path d="M 283.759963 545.438357 L 285.999813 546.558283 L 286.559776 551.037984 L 284.879888 556.637611 L 283.2 554.39776 z
" clip-path="url(#pea891606ec)" style="fill: #4866ff"/>
   </g>
   <g id="patch_120">
    <path d="M 266.475035 602.55455 L 268.154923 591.355296 L 269.834811 602.55455 L 268.714886 617.113579 L 268.154923 617.673542 z
" clip-path="url(#pea891606ec)" style="fill: #2448ff"/>
   </g>
   <g id="patch_121">
    <path d="M 334.156603 627.192907 L 336.956416 623.833131 L 341.436118 618.233504 L 344.235931 610.394027 L 347.595707 599.194774 L 350.39552 585.75567 L 354.875222 579.036118 L 357.115072 571.19664 L 359.354923 565.597014 L 363.834624 558.877462 L 367.1944 556.077648 L 368.314326 565.597014 L 369.434251 587.99552 L 369.994214 610.394027 L 372.794027 632.792534 L 378.393654 641.751937 L 383.99328 649.591414 L 391.19888 643.991787 L 400.158283 637.272235 L 402.398133 655.191041 L 404.637984 666.390294 L 406.877835 677.589547 L 413.597387 683.189174 L 419.197014 686.54895 L 425.916566 688.788801 L 417.517126 705.027718 L 368.314326 705.027718 L 368.314326 699.988054 L 361.594774 692.148577 L 355.995147 685.429025 L 350.39552 679.829398 L 341.436118 685.429025 L 334.716566 691.028651 L 334.156603 677.589547 L 333.59664 655.191041 L 333.59664 638.392161 z
" clip-path="url(#pea891606ec)" style="fill: #dae0ff"/>
   </g>
   <g id="patch_122">
    <path d="M 334.716566 642.871862 L 341.436118 637.272235 L 344.795894 633.912459 L 347.595707 621.59328 L 350.955483 610.95399 L 367.1944 610.95399 L 367.1944 624.953056 L 362.714699 634.472422 L 366.634438 638.392161 L 369.434251 646.231638 L 372.234064 654.071115 L 369.994214 664.150443 L 367.1944 672.549883 L 361.594774 660.790667 L 355.995147 651.831265 L 350.39552 646.231638 L 345.915819 655.191041 L 341.436118 666.390294 L 338.076342 675.349697 L 334.716566 679.829398 z
" clip-path="url(#pea891606ec)" style="fill: #b6c2ff"/>
   </g>
   <g id="patch_123">
    <path d="M 384.479328 683.189174 L 390.078955 675.349697 L 394.558656 660.790667 L 396.798507 655.191041 L 400.158283 652.391227 L 401.278208 666.390294 L 403.518059 677.589547 L 407.99776 682.069249 L 414.717312 687.668875 L 423.676715 691.028651 L 417.517126 705.027718 L 376.639851 705.027718 L 379.999627 694.388427 z
" clip-path="url(#pea891606ec)" style="fill: #b6c2ff"/>
   </g>
   <g id="patch_124">
    <path d="M 383.359403 705.027718 L 391.19888 692.148577 L 400.718245 681.509286 L 407.99776 687.668875 L 415.837238 694.388427 L 421.436864 696.628278 L 417.517126 705.027718 z
" clip-path="url(#pea891606ec)" style="fill: #90a2ff"/>
   </g>
   <g id="patch_125">
    <path d="M 394.558656 705.027718 L 400.718245 696.068315 L 409.117685 697.748203 L 420.316939 699.988054 L 418.077088 705.027718 z
" clip-path="url(#pea891606ec)" style="fill: #6c84ff"/>
   </g>
   <g id="patch_126">
    <path d="M 314.557909 530.879328 L 317.917685 529.535418 L 333.59664 529.759403 L 339.196267 532.559216 L 344.795894 535.918992 L 348.15567 540.958656 L 349.835558 546.558283 L 349.275595 554.39776 L 347.595707 565.597014 L 345.915819 576.796267 L 344.235931 583.515819 L 341.436118 593.595147 L 336.956416 601.434624 L 332.476715 610.394027 L 330.236864 621.59328 L 329.676902 632.792534 L 329.676902 643.991787 L 330.236864 666.390294 L 330.236864 677.589547 L 327.997014 686.54895 L 324.637238 696.628278 L 323.517312 705.027718 L 316.79776 705.027718 L 310.078208 699.988054 L 301.118805 698.868129 L 297.759029 694.388427 L 294.399253 683.189174 L 292.159403 666.390294 L 291.039477 649.591414 L 289.919552 632.792534 L 289.919552 621.59328 L 291.039477 610.394027 L 292.159403 599.194774 L 294.399253 593.595147 L 296.639104 585.75567 L 298.878955 576.796267 L 302.238731 570.076715 L 306.718432 563.357163 L 310.078208 557.757536 L 312.318059 548.798133 L 313.437984 537.59888 z
" clip-path="url(#pea891606ec)" style="fill: #ffe2dc"/>
   </g>
   <g id="patch_127">
    <path d="M 320.157536 535.359029 L 323.517312 533.119179 L 332.476715 532.559216 L 338.076342 535.359029 L 342.556043 539.838731 L 345.915819 546.558283 L 346.475782 554.39776 L 344.795894 565.597014 L 342.556043 574.556416 L 340.316192 584.635744 L 338.076342 593.595147 L 334.716566 599.194774 L 331.35679 608.154176 L 329.116939 619.35343 L 328.556976 632.792534 L 327.997014 643.991787 L 328.556976 666.390294 L 329.116939 677.589547 L 325.757163 686.54895 L 321.277462 695.508353 L 317.917685 699.988054 L 311.198133 697.748203 L 304.478581 693.268502 L 299.99888 688.788801 L 296.639104 677.589547 L 294.399253 666.390294 L 293.279328 649.591414 L 292.159403 632.792534 L 292.719365 615.993654 L 294.399253 601.434624 L 296.639104 592.475222 L 299.99888 584.635744 L 304.478581 574.556416 L 308.958283 567.836864 L 313.437984 559.997387 L 316.79776 549.918059 L 318.477648 540.958656 z
" clip-path="url(#pea891606ec)" style="fill: #ffc4b8"/>
   </g>
   <g id="patch_128">
    <path d="M 322.397387 545.438357 L 325.757163 540.958656 L 333.59664 535.359029 L 339.196267 539.838731 L 342.556043 546.558283 L 343.116006 554.39776 L 341.436118 565.597014 L 339.75623 574.556416 L 338.076342 583.515819 L 335.836491 592.475222 L 332.476715 599.194774 L 330.236864 608.154176 L 326.877088 617.113579 L 326.317126 632.792534 L 326.877088 655.191041 L 327.437051 671.989921 L 325.757163 683.189174 L 321.277462 691.028651 L 317.917685 696.628278 L 312.318059 693.268502 L 305.598507 688.788801 L 301.118805 683.189174 L 298.878955 671.989921 L 296.079141 655.191041 L 294.399253 632.792534 L 294.959216 610.394027 L 296.639104 601.434624 L 301.118805 592.475222 L 306.718432 587.99552 L 312.318059 582.395894 L 316.79776 574.556416 L 317.917685 565.597014 L 320.157536 554.39776 z
" clip-path="url(#pea891606ec)" style="fill: #ffa492"/>
   </g>
   <g id="patch_129">
    <path d="M 325.1972 547.678208 L 327.997014 543.198507 L 333.59664 537.59888 L 338.076342 540.958656 L 340.316192 546.558283 L 339.196267 554.39776 L 336.956416 563.357163 L 335.276528 572.316566 L 331.35679 565.597014 L 327.997014 561.117312 L 325.1972 557.757536 z
" clip-path="url(#pea891606ec)" style="fill: #ff866e"/>
   </g>
   <g id="patch_130">
    <path d="M 297.759029 605.914326 L 303.358656 599.194774 L 310.078208 590.235371 L 317.357723 578.476155 L 321.837424 582.955856 L 327.997014 588.555483 L 327.437051 599.194774 L 326.317126 610.394027 L 325.1972 621.59328 L 325.1972 643.991787 L 325.757163 660.790667 L 326.317126 675.349697 L 324.637238 683.189174 L 321.277462 687.668875 L 317.917685 693.828465 L 311.198133 686.54895 L 303.358656 679.829398 L 298.878955 666.390294 L 296.079141 643.991787 L 295.519179 627.192907 L 296.639104 615.993654 z
" clip-path="url(#pea891606ec)" style="fill: #ff866e"/>
   </g>
   <g id="patch_131">
    <path d="M 330.796827 546.558283 L 334.156603 543.758469 L 336.396454 547.678208 L 335.276528 554.39776 L 334.156603 560.55735 L 331.35679 554.39776 z
" clip-path="url(#pea891606ec)" style="fill: #ff684a"/>
   </g>
   <g id="patch_132">
    <path d="M 301.118805 603.674475 L 308.958283 594.715072 L 317.357723 585.195707 L 321.277462 589.115446 L 322.397387 599.194774 L 322.397387 621.59328 L 322.397387 643.991787 L 323.517312 660.790667 L 325.1972 677.589547 L 322.95735 683.189174 L 320.157536 686.54895 L 317.917685 688.228838 L 312.318059 683.189174 L 306.718432 677.589547 L 302.238731 666.390294 L 298.878955 649.591414 L 297.199067 632.792534 L 297.759029 615.993654 z
" clip-path="url(#pea891606ec)" style="fill: #ff684a"/>
   </g>
   <g id="patch_133">
    <path d="M 304.478581 652.95119 L 311.198133 643.991787 L 317.357723 633.912459 L 319.597573 643.991787 L 321.277462 655.191041 L 322.397387 666.390294 L 322.95735 677.589547 L 319.037611 683.189174 L 317.917685 687.668875 L 313.437984 683.189174 L 308.39832 677.589547 L 306.158469 666.390294 z
" clip-path="url(#pea891606ec)" style="fill: #ff4a26"/>
   </g>
   <g id="patch_134">
    <path d="M 313.997947 655.191041 L 317.357723 649.031451 L 319.037611 655.191041 L 319.597573 666.390294 L 320.157536 677.589547 L 317.917685 682.069249 L 315.677835 679.829398 L 313.437984 675.349697 L 313.661969 666.390294 z
" clip-path="url(#pea891606ec)" style="fill: #ff2a00"/>
   </g>
   <g id="patch_135">
    <path d="M 376.079888 556.637611 L 378.879701 547.678208 L 383.359403 543.198507 L 390.078955 545.99832 L 396.238544 552.157909 L 398.478395 559.997387 L 399.59832 571.19664 L 399.038357 587.99552 L 396.798507 601.434624 L 392.318805 612.633878 L 387.839104 621.59328 L 383.919365 627.192907 L 381.119552 619.35343 L 378.319739 608.154176 L 376.639851 593.595147 L 375.519925 576.796267 z
" clip-path="url(#pea891606ec)" style="fill: #ffe2dc"/>
   </g>
   <g id="patch_136">
    <path d="M 379.439664 557.757536 L 383.359403 551.037984 L 386.719179 554.39776 L 390.638917 559.997387 L 392.878768 568.95679 L 393.214746 580.156043 L 391.758843 593.595147 L 387.839104 604.7944 L 383.919365 612.633878 L 381.119552 602.55455 L 379.439664 590.235371 L 378.879701 576.796267 z
" clip-path="url(#pea891606ec)" style="fill: #ffc4b8"/>
   </g>
   <g id="patch_137">
    <path d="M 382.239477 567.836864 L 383.919365 562.7972 L 386.159216 568.95679 L 387.279141 577.916192 L 385.599253 587.99552 L 383.919365 595.834998 L 382.463462 587.99552 L 382.015492 576.796267 z
" clip-path="url(#pea891606ec)" style="fill: #ffa492"/>
   </g>
   <g id="patch_138">
    <path d="M 404.078021 567.836864 L 416.957163 558.877462 L 422.55679 551.037984 L 428.156416 544.318432 L 433.756043 533.679141 L 444.395334 531.439291 L 449.99496 526.399627 L 449.434998 543.198507 L 447.75511 559.997387 L 445.515259 576.796267 L 444.395334 593.595147 L 444.395334 610.394027 L 444.395334 632.792534 L 442.715446 649.591414 L 440.475595 660.790667 L 438.795707 677.589547 L 433.756043 677.589547 L 430.396267 682.069249 L 423.676715 679.829398 L 415.837238 677.589547 L 412.477462 660.790667 L 410.237611 638.392161 L 407.99776 621.59328 L 406.317872 604.7944 L 404.637984 590.235371 L 403.518059 576.796267 z
" clip-path="url(#pea891606ec)" style="fill: #ffe2dc"/>
   </g>
   <g id="patch_139">
    <path d="M 416.3972 594.715072 L 421.436864 587.99552 L 428.156416 576.796267 L 432.636118 566.716939 L 435.435931 576.796267 L 437.115819 593.595147 L 438.795707 615.993654 L 438.795707 632.792534 L 437.675782 649.591414 L 435.995894 666.390294 L 434.875968 677.589547 L 432.636118 677.589547 L 429.836304 678.14951 L 423.676715 669.75007 L 416.3972 658.550817 L 414.717312 632.792534 L 414.717312 610.394027 z
" clip-path="url(#pea891606ec)" style="fill: #ffc4b8"/>
   </g>
   <g id="patch_140">
    <path d="M 430.396267 633.912459 L 432.636118 625.513019 L 433.756043 632.792534 L 433.19608 642.871862 z
" clip-path="url(#pea891606ec)" style="fill: #ffa492"/>
   </g>
   <g id="patch_141">
    <path d="M 447.129582 677.69937 L 448.810647 655.285174 L 452.733131 644.078076 L 453.853841 632.870978 L 454.414196 610.456783 L 455.534905 588.042587 L 458.897035 571.23194 L 463.379874 560.024842 L 466.742003 554.981648 L 471.224842 554.421293 L 476.828391 553.300584 L 482.43194 550.498809 L 488.035489 553.300584 L 493.078683 559.464488 L 493.639038 571.23194 L 492.518328 588.042587 L 491.397618 610.456783 L 491.397618 632.870978 L 491.397618 655.285174 L 488.035489 676.57866 L 484.67336 683.302919 L 481.871585 687.785758 L 471.224842 685.544338 L 465.621293 677.69937 z
" clip-path="url(#pea891606ec)" style="fill: #dae0ff"/>
   </g>
   <g id="patch_142">
    <path d="M 454.414196 654.164464 L 458.897035 644.078076 L 458.897035 621.66388 L 460.017745 599.249685 L 462.259164 582.439038 L 466.181648 570.11123 L 480.190521 577.956199 L 483.55265 588.042587 L 484.67336 610.456783 L 486.354424 632.870978 L 488.035489 655.285174 L 486.914779 666.492272 L 482.43194 677.139015 L 466.742003 674.897595 L 460.017745 664.250852 z
" clip-path="url(#pea891606ec)" style="fill: #b6c2ff"/>
   </g>
   <g id="patch_143">
    <path d="M 460.017745 654.164464 L 462.259164 632.870978 L 463.940229 610.456783 L 466.181648 586.921877 L 468.983423 590.284007 L 474.586972 602.611814 L 479.069811 621.66388 L 482.43194 632.870978 L 484.113005 644.078076 L 484.67336 655.285174 L 482.43194 664.250852 L 465.621293 665.371562 z
" clip-path="url(#pea891606ec)" style="fill: #90a2ff"/>
   </g>
   <g id="patch_144">
    <path d="M 465.060939 655.845529 L 466.181648 635.112398 L 468.983423 641.836657 L 474.026617 654.164464 L 465.621293 656.405884 z
" clip-path="url(#pea891606ec)" style="fill: #6c84ff"/>
   </g>
   <g id="patch_145">
    <path d="M 497.561522 653.043754 L 499.242587 653.043754 L 499.242587 704.596404 L 497.001167 704.596404 z
" clip-path="url(#pea891606ec)" style="fill: #ffe2dc"/>
   </g>
   <g id="patch_146">
    <path d="M 102.72 656.304 L 119.616 677.568 L 169.296 677.304 L 184.8 704.16 L 102.72 704.16 z
" clip-path="url(#pea891606ec)" style="fill: #ffffff"/>
   </g>
   <g id="patch_147">
    <path d="M 433.296 677.304 L 466.08 677.304 L 481.536 704.16 L 417.456 704.16 z
" clip-path="url(#pea891606ec)" style="fill: #ffffff"/>
   </g>
   <g id="matplotlib.axis_9">
    <g id="xtick_15">
     <g id="line2d_63">
      <g>
       <path d="M 0 0 L 0 3.5 " transform="translate(103.4892 703.9296)" style="stroke: #000000"/>
      </g>
     </g>
     <g id="text_69">
      <text style="font-size: 8px; font-family: 'DejaVu Sans', 'Liberation Sans', sans-serif; text-anchor: middle" x="103.4892" y="716.4323" transform="rotate(-0 103.4892 716.4323)">−90</text>
     </g>
    </g>
    <g id="xtick_16">
     <g id="line2d_64">
      <g>
       <path d="M 0 0 L 0 3.5 " transform="translate(169.4322 703.9296)" style="stroke: #000000"/>
      </g>
     </g>
     <g id="text_70">
      <text style="font-size: 8px; font-family: 'DejaVu Sans', 'Liberation Sans', sans-serif; text-anchor: middle" x="169.4322" y="716.4323" transform="rotate(-0 169.4322 716.4323)">−60</text>
     </g>
    </g>
    <g id="xtick_17">
     <g id="line2d_65">
      <g>
       <path d="M 0 0 L 0 3.5 " transform="translate(235.3752 703.9296)" style="stroke: #000000"/>
      </g>
     </g>
     <g id="text_71">
      <text style="font-size: 8px; font-family: 'DejaVu Sans', 'Liberation Sans', sans-serif; text-anchor: middle" x="235.3752" y="716.4323" transform="rotate(-0 235.3752 716.4323)">−30</text>
     </g>
    </g>
    <g id="xtick_18">
     <g id="line2d_66">
      <g>
       <path d="M 0 0 L 0 3.5 " transform="translate(301.3182 703.9296)" style="stroke: #000000"/>
      </g>
     </g>
     <g id="text_72">
      <text style="font-size: 8px; font-family: 'DejaVu Sans', 'Liberation Sans', sans-serif; text-anchor: middle" x="301.3182" y="716.4323" transform="rotate(-0 301.3182 716.4323)">0</text>
     </g>
    </g>
    <g id="xtick_19">
     <g id="line2d_67">
      <g>
       <path d="M 0 0 L 0 3.5 " transform="translate(367.2612 703.9296)" style="stroke: #000000"/>
      </g>
     </g>
     <g id="text_73">
      <text style="font-size: 8px; font-family: 'DejaVu Sans', 'Liberation Sans', sans-serif; text-anchor: middle" x="367.2612" y="716.4323" transform="rotate(-0 367.2612 716.4323)">30</text>
     </g>
    </g>
    <g id="xtick_20">
     <g id="line2d_68">
      <g>
       <path d="M 0 0 L 0 3.5 " transform="translate(433.2042 703.9296)" style="stroke: #000000"/>
      </g>
     </g>
     <g id="text_74">
      <text style="font-size: 8px; font-family: 'DejaVu Sans', 'Liberation Sans', sans-serif; text-anchor: middle" x="433.2042" y="716.4323" transform="rotate(-0 433.2042 716.4323)">60</text>
     </g>
    </g>
    <g id="xtick_21">
     <g id="line2d_69">
      <g>
       <path d="M 0 0 L 0 3.5 " transform="translate(499.1472 703.9296)" style="stroke: #000000"/>
      </g>
     </g>
     <g id="text_75">
      <text style="font-size: 8px; font-family: 'DejaVu Sans', 'Liberation Sans', sans-serif; text-anchor: middle" x="499.1472" y="716.4323" transform="rotate(-0 499.1472 716.4323)">90</text>
     </g>
    </g>
   </g>
   <g id="matplotlib.axis_10">
    <g id="ytick_49">
     <g id="line2d_70">
      <g>
       <path d="M 0 0 L -3.5 0 " transform="translate(103.4892 525.096)" style="stroke: #000000"/>
      </g>
     </g>
     <g id="text_76">
      <text style="font-size: 8px; font-family: 'DejaVu Sans', 'Liberation Sans', sans-serif; text-anchor: end" x="96.4892" y="527.5594" transform="rotate(-0 96.4892 527.5594)">100</text>
     </g>
    </g>
    <g id="ytick_50">
     <g id="line2d_71">
      <g>
       <path d="M 0 0 L -3.5 0 " transform="translate(103.4892 544.9664)" style="stroke: #000000"/>
      </g>
     </g>
     <g id="text_77">
      <text style="font-size: 8px; font-family: 'DejaVu Sans', 'Liberation Sans', sans-serif; text-anchor: end" x="96.4892" y="547.4298" transform="rotate(-0 96.4892 547.4298)">200</text>
     </g>
    </g>
    <g id="ytick_51">
     <g id="line2d_72">
      <g>
       <path d="M 0 0 L -3.5 0 " transform="translate(103.4892 564.8368)" style="stroke: #000000"/>
      </g>
     </g>
     <g id="text_78">
      <text style="font-size: 8px; font-family: 'DejaVu Sans', 'Liberation Sans', sans-serif; text-anchor: end" x="96.4892" y="567.3002" transform="rotate(-0 96.4892 567.3002)">300</text>
     </g>
    </g>
    <g id="ytick_52">
     <g id="line2d_73">
      <g>
       <path d="M 0 0 L -3.5 0 " transform="translate(103.4892 584.7072)" style="stroke: #000000"/>
      </g>
     </g>
     <g id="text_79">
      <text style="font-size: 8px; font-family: 'DejaVu Sans', 'Liberation Sans', sans-serif; text-anchor: end" x="96.4892" y="587.1706" transform="rotate(-0 96.4892 587.1706)">400</text>
     </g>
    </g>
    <g id="ytick_53">
     <g id="line2d_74">
      <g>
       <path d="M 0 0 L -3.5 0 " transform="translate(103.4892 604.5776)" style="stroke: #000000"/>
      </g>
     </g>
     <g id="text_80">
      <text style="font-size: 8px; font-family: 'DejaVu Sans', 'Liberation Sans', sans-serif; text-anchor: end" x="96.4892" y="607.0410" transform="rotate(-0 96.4892 607.0410)">500</text>
     </g>
    </g>
    <g id="ytick_54">
     <g id="line2d_75">
      <g>
       <path d="M 0 0 L -3.5 0 " transform="translate(103.4892 624.448)" style="stroke: #000000"/>
      </g>
     </g>
     <g id="text_81">
      <text style="font-size: 8px; font-family: 'DejaVu Sans', 'Liberation Sans', sans-serif; text-anchor: end" x="96.4892" y="626.9114" transform="rotate(-0 96.4892 626.9114)">600</text>
     </g>
    </g>
    <g id="ytick_55">
     <g id="line2d_76">
      <g>
       <path d="M 0 0 L -3.5 0 " transform="translate(103.4892 644.3184)" style="stroke: #000000"/>
      </g>
     </g>
     <g id="text_82">
      <text style="font-size: 8px; font-family: 'DejaVu Sans', 'Liberation Sans', sans-serif; text-anchor: end" x="96.4892" y="646.7818" transform="rotate(-0 96.4892 646.7818)">700</text>
     </g>
    </g>
    <g id="ytick_56">
     <g id="line2d_77">
      <g>
       <path d="M 0 0 L -3.5 0 " transform="translate(103.4892 664.1888)" style="stroke: #000000"/>
      </g>
     </g>
     <g id="text_83">
      <text style="font-size: 8px; font-family: 'DejaVu Sans', 'Liberation Sans', sans-serif; text-anchor: end" x="96.4892" y="666.6522" transform="rotate(-0 96.4892 666.6522)">800</text>
     </g>
    </g>
    <g id="ytick_57">
     <g id="line2d_78">
      <g>
       <path d="M 0 0 L -3.5 0 " transform="translate(103.4892 684.0592)" style="stroke: #000000"/>
      </g>
     </g>
     <g id="text_84">
      <text style="font-size: 8px; font-family: 'DejaVu Sans', 'Liberation Sans', sans-serif; text-anchor: end" x="96.4892" y="686.5226" transform="rotate(-0 96.4892 686.5226)">900</text>
     </g>
    </g>
    <g id="ytick_58">
     <g id="line2d_79">
      <g>
       <path d="M 0 0 L -3.5 0 " transform="translate(103.4892 703.9296)" style="stroke: #000000"/>
      </g>
     </g>
     <g id="text_85">
      <text style="font-size: 8px; font-family: 'DejaVu Sans', 'Liberation Sans', sans-serif; text-anchor: end" x="96.4892" y="706.3930" transform="rotate(-0 96.4892 706.3930)">1000</text>
     </g>
    </g>
    <g id="text_86">
     <g transform="translate(-1.0560 0.6720)"><text style="font-size: 20px; font-family: 'DejaVu Sans', 'Liberation Sans', sans-serif; text-anchor: middle" x="67.969825" y="614.5128" transform="rotate(-90 67.969825 614.5128)">pressure (mb)</text></g>
    </g>
   </g>
   <g id="patch_148">
    <path d="M 103.4892 703.9296 L 103.4892 525.096 " style="fill: none; stroke: #000000; stroke-width: 0.8; stroke-linejoin: miter; stroke-linecap: square"/>
   </g>
   <g id="patch_149">
    <path d="M 499.1472 703.9296 L 499.1472 525.096 " style="fill: none; stroke: #000000; stroke-width: 0.8; stroke-linejoin: miter; stroke-linecap: square"/>
   </g>
   <g id="patch_150">
    <path d="M 103.4892 703.9296 L 499.1472 703.9296 " style="fill: none; stroke: #000000; stroke-width: 0.8; stroke-linejoin: miter; stroke-linecap: square"/>
   </g>
   <g id="patch_151">
    <path d="M 103.4892 525.096 L 499.1472 525.096 " style="fill: none; stroke: #000000; stroke-width: 0.8; stroke-linejoin: miter; stroke-linecap: square"/>
   </g>
   <g id="text_87">
    <text style="font-size: 11.5px; font-family: 'DejaVu Sans', 'Liberation Sans', sans-serif; text-anchor: middle" x="301.3182" y="519.096" transform="rotate(-0 301.3182 519.096)">Model - Observation</text>
   </g>
  </g>
  <g id="axes_6">
   <g id="patch_152">
    <path d="M 509.5512 680.4504 L 529.5024 680.4504 L 529.5024 551.4264 L 509.5512 551.4264 z
" style="fill: #ffffff"/>
   </g>
   <g id="patch_153">
    <path d="M 509.5512 680.4504 L 519.5268 686.9016 L 529.5024 680.4504 z" style="fill: #002aff; stroke: #002aff; stroke-width: 0.6; stroke-linejoin: miter"/>
   </g>
   <g id="patch_154">
    <path d="M 509.5512 551.4264 L 519.5268 544.9752 L 529.5024 551.4264 z" style="fill: #ff2a00; stroke: #ff2a00; stroke-width: 0.6; stroke-linejoin: miter"/>
   </g>
   <g id="QuadMesh_3">
    <path d="M 509.5512 680.4504 L 529.5024 680.4504 L 529.5024 671.8488 L 509.5512 671.8488 L 509.5512 680.4504 " clip-path="url(#p00c05dc50c)" style="fill: #002aff; stroke: #002aff; stroke-width: 0.6"/>
    <path d="M 509.5512 671.8488 L 529.5024 671.8488 L 529.5024 663.2472 L 509.5512 663.2472 L 509.5512 671.8488 " clip-path="url(#p00c05dc50c)" style="fill: #2448ff; stroke: #2448ff; stroke-width: 0.6"/>
    <path d="M 509.5512 663.2472 L 529.5024 663.2472 L 529.5024 654.6456 L 509.5512 654.6456 L 509.5512 663.2472 " clip-path="url(#p00c05dc50c)" style="fill: #4866ff; stroke: #4866ff; stroke-width: 0.6"/>
    <path d="M 509.5512 654.6456 L 529.5024 654.6456 L 529.5024 646.044 L 509.5512 646.044 L 509.5512 654.6456 " clip-path="url(#p00c05dc50c)" style="fill: #6c84ff; stroke: #6c84ff; stroke-width: 0.6"/>
    <path d="M 509.5512 646.044 L 529.5024 646.044 L 529.5024 637.4424 L 509.5512 637.4424 L 509.5512 646.044 " clip-path="url(#p00c05dc50c)" style="fill: #90a2ff; stroke: #90a2ff; stroke-width: 0.6"/>
    <path d="M 509.5512 637.4424 L 529.5024 637.4424 L 529.5024 628.8408 L 509.5512 628.8408 L 509.5512 637.4424 " clip-path="url(#p00c05dc50c)" style="fill: #b6c2ff; stroke: #b6c2ff; stroke-width: 0.6"/>
    <path d="M 509.5512 628.8408 L 529.5024 628.8408 L 529.5024 620.2392 L 509.5512 620.2392 L 509.5512 628.8408 " clip-path="url(#p00c05dc50c)" style="fill: #dae0ff; stroke: #dae0ff; stroke-width: 0.6"/>
    <path d="M 509.5512 620.2392 L 529.5024 620.2392 L 529.5024 611.6376 L 509.5512 611.6376 L 509.5512 620.2392 " clip-path="url(#p00c05dc50c)" style="fill: #fefeff; stroke: #fefeff; stroke-width: 0.6"/>
    <path d="M 509.5512 611.6376 L 529.5024 611.6376 L 529.5024 603.036 L 509.5512 603.036 L 509.5512 611.6376 " clip-path="url(#p00c05dc50c)" style="fill: #ffe2dc; stroke: #ffe2dc; stroke-width: 0.6"/>
    <path d="M 509.5512 603.036 L 529.5024 603.036 L 529.5024 594.4344 L 509.5512 594.4344 L 509.5512 603.036 " clip-path="url(#p00c05dc50c)" style="fill: #ffc4b8; stroke: #ffc4b8; stroke-width: 0.6"/>
    <path d="M 509.5512 594.4344 L 529.5024 594.4344 L 529.5024 585.8328 L 509.5512 585.8328 L 509.5512 594.4344 " clip-path="url(#p00c05dc50c)" style="fill: #ffa492; stroke: #ffa492; stroke-width: 0.6"/>
    <path d="M 509.5512 585.8328 L 529.5024 585.8328 L 529.5024 577.2312 L 509.5512 577.2312 L 509.5512 585.8328 " clip-path="url(#p00c05dc50c)" style="fill: #ff866e; stroke: #ff866e; stroke-width: 0.6"/>
    <path d="M 509.5512 577.2312 L 529.5024 577.2312 L 529.5024 568.6296 L 509.5512 568.6296 L 509.5512 577.2312 " clip-path="url(#p00c05dc50c)" style="fill: #ff684a; stroke: #ff684a; stroke-width: 0.6"/>
    <path d="M 509.5512 568.6296 L 529.5024 568.6296 L 529.5024 560.028 L 509.5512 560.028 L 509.5512 568.6296 " clip-path="url(#p00c05dc50c)" style="fill: #ff4a26; stroke: #ff4a26; stroke-width: 0.6"/>
    <path d="M 509.5512 560.028 L 529.5024 560.028 L 529.5024 551.4264 L 509.5512 551.4264 L 509.5512 560.028 " clip-path="url(#p00c05dc50c)" style="fill: #ff2a00; stroke: #ff2a00; stroke-width: 0.6"/>
   </g>
   <g id="matplotlib.axis_11"/>
   <g id="matplotlib.axis_12">
    <g id="ytick_59">
     <g id="line2d_80"/>
     <g id="text_88">
      <text style="font-size: 9px; font-family: 'DejaVu Sans', 'Liberation Sans', sans-serif; text-anchor: end" x="554.5024" y="675.268097" transform="rotate(-0 554.5024 675.268097)">-20.0</text>
     </g>
    </g>
    <g id="ytick_60">
     <g id="line2d_81"/>
     <g id="text_89">
      <text style="font-size: 9px; font-family: 'DejaVu Sans', 'Liberation Sans', sans-serif; text-anchor: end" x="554.5024" y="666.666497" transform="rotate(-0 554.5024 666.666497)">-15.0</text>
     </g>
    </g>
    <g id="ytick_61">
     <g id="line2d_82"/>
     <g id="text_90">
      <text style="font-size: 9px; font-family: 'DejaVu Sans', 'Liberation Sans', sans-serif; text-anchor: end" x="554.5024" y="658.064897" transform="rotate(-0 554.5024 658.064897)">-10.0</text>
     </g>
    </g>
    <g id="ytick_62">
     <g id="line2d_83"/>
     <g id="text_91">
      <text style="font-size: 9px; font-family: 'DejaVu Sans', 'Liberation Sans', sans-serif; text-anchor: end" x="554.5024" y="649.463297" transform="rotate(-0 554.5024 649.463297)"> -8.0</text>
     </g>
    </g>
    <g id="ytick_63">
     <g id="line2d_84"/>
     <g id="text_92">
      <text style="font-size: 9px; font-family: 'DejaVu Sans', 'Liberation Sans', sans-serif; text-anchor: end" x="554.5024" y="640.861697" transform="rotate(-0 554.5024 640.861697)"> -6.0</text>
     </g>
    </g>
    <g id="ytick_64">
     <g id="line2d_85"/>
     <g id="text_93">
      <text style="font-size: 9px; font-family: 'DejaVu Sans', 'Liberation Sans', sans-serif; text-anchor: end" x="554.5024" y="632.260097" transform="rotate(-0 554.5024 632.260097)"> -4.0</text>
     </g>
    </g>
    <g id="ytick_65">
     <g id="line2d_86"/>
     <g id="text_94">
      <text style="font-size: 9px; font-family: 'DejaVu Sans', 'Liberation Sans', sans-serif; text-anchor: end" x="554.5024" y="623.658497" transform="rotate(-0 554.5024 623.658497)"> -2.0</text>
     </g>
    </g>
    <g id="ytick_66">
     <g id="line2d_87"/>
     <g id="text_95">
      <text style="font-size: 9px; font-family: 'DejaVu Sans', 'Liberation Sans', sans-serif; text-anchor: end" x="554.5024" y="615.056897" transform="rotate(-0 554.5024 615.056897)">  2.0</text>
     </g>
    </g>
    <g id="ytick_67">
     <g id="line2d_88"/>
     <g id="text_96">
      <text style="font-size: 9px; font-family: 'DejaVu Sans', 'Liberation Sans', sans-serif; text-anchor: end" x="554.5024" y="606.455297" transform="rotate(-0 554.5024 606.455297)">  4.0</text>
     </g>
    </g>
    <g id="ytick_68">
     <g id="line2d_89"/>
     <g id="text_97">
      <text style="font-size: 9px; font-family: 'DejaVu Sans', 'Liberation Sans', sans-serif; text-anchor: end" x="554.5024" y="597.853697" transform="rotate(-0 554.5024 597.853697)">  6.0</text>
     </g>
    </g>
    <g id="ytick_69">
     <g id="line2d_90"/>
     <g id="text_98">
      <text style="font-size: 9px; font-family: 'DejaVu Sans', 'Liberation Sans', sans-serif; text-anchor: end" x="554.5024" y="589.252097" transform="rotate(-0 554.5024 589.252097)">  8.0</text>
     </g>
    </g>
    <g id="ytick_70">
     <g id="line2d_91"/>
     <g id="text_99">
      <text style="font-size: 9px; font-family: 'DejaVu Sans', 'Liberation Sans', sans-serif; text-anchor: end" x="554.5024" y="580.650497" transform="rotate(-0 554.5024 580.650497)"> 10.0</text>
     </g>
    </g>
    <g id="ytick_71">
     <g id="line2d_92"/>
     <g id="text_100">
      <text style="font-size: 9px; font-family: 'DejaVu Sans', 'Liberation Sans', sans-serif; text-anchor: end" x="554.5024" y="572.048897" transform="rotate(-0 554.5024 572.048897)"> 15.0</text>
     </g>
    </g>
    <g id="ytick_72">
     <g id="line2d_93"/>
     <g id="text_101">
      <text style="font-size: 9px; font-family: 'DejaVu Sans', 'Liberation Sans', sans-serif; text-anchor: end" x="554.5024" y="563.447297" transform="rotate(-0 554.5024 563.447297)"> 20.0</text>
     </g>
    </g>
   </g>
   <g id="LineCollection_3"/>
   <g id="patch_155">
    <path d="M 509.5512 680.4504 L 519.5268 686.9016 L 529.5024 680.4504 L 529.5024 551.4264 L 519.5268 544.9752 L 509.5512 551.4264 L 509.5512 680.4504 z
" style="fill: none; stroke: #000000; stroke-width: 0.8; stroke-linejoin: miter; stroke-linecap: square"/>
   </g>
  </g>
  <g id="text_102">
   <text style="font-size: 9.5px; font-family: 'DejaVu Sans', 'Liberation Sans', sans-serif" transform="translate(510.0312 65.1698)">Max</text>
   <text style="font-size: 9.5px; font-family: 'DejaVu Sans', 'Liberation Sans', sans-serif" transform="translate(510.0312 75.1357)">Mean</text>
   <text style="font-size: 9.5px; font-family: 'DejaVu Sans', 'Liberation Sans', sans-serif" transform="translate(510.0312 85.7736)">Min</text>
  </g>
  <g id="text_103">
   <text style="font-size: 9.5px; font-family: 'DejaVu Sans', 'Liberation Sans', sans-serif; text-anchor: end" transform="translate(570.5112 65.1698)">25.01</text>
   <text style="font-size: 9.5px; font-family: 'DejaVu Sans', 'Liberation Sans', sans-serif; text-anchor: end" transform="translate(570.5112 75.1357)">-0.05</text>
   <text style="font-size: 9.5px; font-family: 'DejaVu Sans', 'Liberation Sans', sans-serif; text-anchor: end" transform="translate(570.5112 85.7736)">-33.61</text>
  </g>
  <g id="text_104">
   <text style="font-size: 9.5px; font-family: 'DejaVu Sans', 'Liberation Sans', sans-serif" transform="translate(510.0312 290.8106)">Max</text>
   <text style="font-size: 9.5px; font-family: 'DejaVu Sans', 'Liberation Sans', sans-serif" transform="translate(510.0312 300.7765)">Mean</text>
   <text style="font-size: 9.5px; font-family: 'DejaVu Sans', 'Liberation Sans', sans-serif" transform="translate(510.0312 311.4144)">Min</text>
  </g>
  <g id="text_105">
   <text style="font-size: 9.5px; font-family: 'DejaVu Sans', 'Liberation Sans', sans-serif; text-anchor: end" transform="translate(570.5112 290.8106)">145.25</text>
   <text style="font-size: 9.5px; font-family: 'DejaVu Sans', 'Liberation Sans', sans-serif; text-anchor: end" transform="translate(570.5112 300.7765)">1.14</text>
   <text style="font-size: 9.5px; font-family: 'DejaVu Sans', 'Liberation Sans', sans-serif; text-anchor: end" transform="translate(570.5112 311.4144)">-45.12</text>
  </g>
  <g id="text_106">
   <text style="font-size: 9.5px; font-family: 'DejaVu Sans', 'Liberation Sans', sans-serif" transform="translate(510.0312 516.4514)">Max</text>
   <text style="font-size: 9.5px; font-family: 'DejaVu Sans', 'Liberation Sans', sans-serif" transform="translate(510.0312 526.4173)">Mean</text>
   <text style="font-size: 9.5px; font-family: 'DejaVu Sans', 'Liberation Sans', sans-serif" transform="translate(510.0312 537.0552)">Min</text>
  </g>
  <g id="text_107">
   <text style="font-size: 9.5px; font-family: 'DejaVu Sans', 'Liberation Sans', sans-serif; text-anchor: end" transform="translate(570.5112 516.4514)">23.66</text>
   <text style="font-size: 9.5px; font-family: 'DejaVu Sans', 'Liberation Sans', sans-serif; text-anchor: end" transform="translate(570.5112 526.4173)">-1.66</text>
   <text style="font-size: 9.5px; font-family: 'DejaVu Sans', 'Liberation Sans', sans-serif; text-anchor: end" transform="translate(570.5112 537.0552)">-120.20</text>
  </g>
  <g id="text_108">
   <text style="font-size: 9.5px; font-family: 'DejaVu Sans', 'Liberation Sans', sans-serif" transform="translate(510.0312 701.6077)">RMSE</text>
   <text style="font-size: 9.5px; font-family: 'DejaVu Sans', 'Liberation Sans', sans-serif" transform="translate(510.0312 712.2456)">CORR</text>
  </g>
  <g id="text_109">
   <text style="font-size: 9.5px; font-family: 'DejaVu Sans', 'Liberation Sans', sans-serif; text-anchor: end" transform="translate(570.5112 701.6077)">5.83</text>
   <text style="font-size: 9.5px; font-family: 'DejaVu Sans', 'Liberation Sans', sans-serif; text-anchor: end" transform="translate(570.5112 712.2456)">0.84</text>
  </g>
  <g id="text_110">
   <text style="font-size: 18px; font-family: 'DejaVu Sans', 'Liberation Sans', sans-serif; text-anchor: middle" x="306" y="45.357188" transform="rotate(-0 306 45.357188)">OMEGA DJF</text>
  </g>
 </g>
 <defs>
  <clipPath id="pb0cb245e15">
   <rect x="103.4892" y="73.8144" width="395.658" height="178.8336"/>
  </clipPath>
  <clipPath id="p1fe804e399">
   <rect x="509.5512" y="100.1448" width="19.9512" height="129.024"/>
  </clipPath>
  <clipPath id="pe29794f8d5">
   <rect x="103.4892" y="299.4552" width="395.658" height="178.8336"/>
  </clipPath>
  <clipPath id="p6719b12ec1">
   <rect x="509.5512" y="325.7856" width="19.9512" height="129.024"/>
  </clipPath>
  <clipPath id="pea891606ec">
   <rect x="103.4892" y="525.096" width="395.658" height="178.8336"/>
  </clipPath>
  <clipPath id="p00c05dc50c">
   <rect x="509.5512" y="551.4264" width="19.9512" height="129.024"/>
  </clipPath>
 </defs>
</svg>

</body></html>
